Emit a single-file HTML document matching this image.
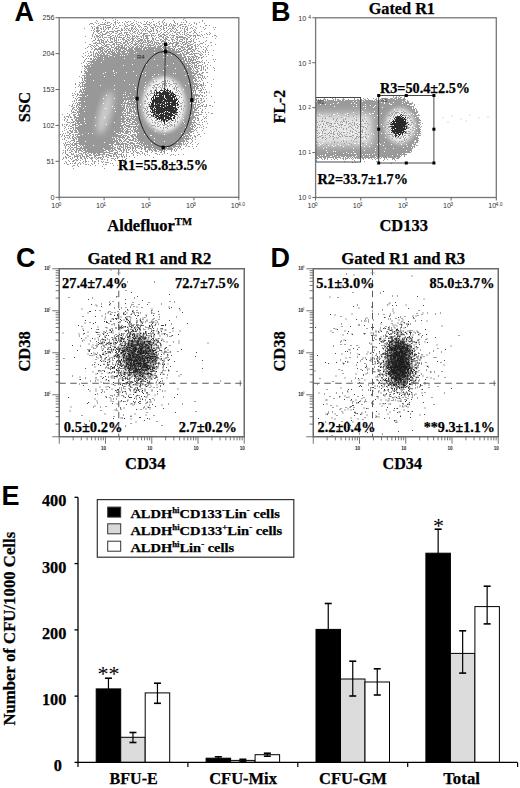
<!DOCTYPE html>
<html><head><meta charset="utf-8"><style>
html,body{margin:0;padding:0;background:#fff;}
svg{display:block;}
</style></head><body>
<svg width="520" height="788" viewBox="0 0 520 788">
<rect width="520" height="788" fill="#fff"/>
<!--A-->
<defs><filter id="b0_5" x="-30%" y="-30%" width="160%" height="160%"><feGaussianBlur stdDeviation="0.5"/></filter><filter id="b0_8" x="-30%" y="-30%" width="160%" height="160%"><feGaussianBlur stdDeviation="0.8"/></filter><filter id="b1" x="-30%" y="-30%" width="160%" height="160%"><feGaussianBlur stdDeviation="1"/></filter><filter id="b1_5" x="-30%" y="-30%" width="160%" height="160%"><feGaussianBlur stdDeviation="1.5"/></filter><filter id="b2" x="-30%" y="-30%" width="160%" height="160%"><feGaussianBlur stdDeviation="2"/></filter><filter id="b2_5" x="-30%" y="-30%" width="160%" height="160%"><feGaussianBlur stdDeviation="2.5"/></filter><filter id="b3" x="-30%" y="-30%" width="160%" height="160%"><feGaussianBlur stdDeviation="3"/></filter><filter id="b4" x="-30%" y="-30%" width="160%" height="160%"><feGaussianBlur stdDeviation="4"/></filter><filter id="b5" x="-30%" y="-30%" width="160%" height="160%"><feGaussianBlur stdDeviation="5"/></filter><filter id="b6" x="-30%" y="-30%" width="160%" height="160%"><feGaussianBlur stdDeviation="6"/></filter><filter id="b8" x="-30%" y="-30%" width="160%" height="160%"><feGaussianBlur stdDeviation="8"/></filter><filter id="dA" filterUnits="userSpaceOnUse" x="0" y="0" width="520" height="788" color-interpolation-filters="sRGB"><feTurbulence type="fractalNoise" baseFrequency="0.9" numOctaves="1" seed="5" result="t"/><feComposite in="SourceAlpha" in2="t" operator="arithmetic" k1="0" k2="0.6" k3="-1" k4="0.62" result="v"/><feComponentTransfer in="v" result="m"><feFuncA type="discrete" tableValues="0 1"/></feComponentTransfer><feFlood flood-color="#989898"/><feComposite in2="m" operator="in"/><feGaussianBlur stdDeviation="0.35"/></filter><filter id="dA2" filterUnits="userSpaceOnUse" x="0" y="0" width="520" height="788" color-interpolation-filters="sRGB"><feTurbulence type="fractalNoise" baseFrequency="0.9" numOctaves="1" seed="11" result="t"/><feComposite in="SourceAlpha" in2="t" operator="arithmetic" k1="0" k2="0.6" k3="-1" k4="0.62" result="v"/><feComponentTransfer in="v" result="m"><feFuncA type="discrete" tableValues="0 1"/></feComponentTransfer><feFlood flood-color="#a0a0a0"/><feComposite in2="m" operator="in"/><feGaussianBlur stdDeviation="0.35"/></filter><filter id="dAk" filterUnits="userSpaceOnUse" x="0" y="0" width="520" height="788" color-interpolation-filters="sRGB"><feTurbulence type="fractalNoise" baseFrequency="0.9" numOctaves="1" seed="17" result="t"/><feComposite in="SourceAlpha" in2="t" operator="arithmetic" k1="0" k2="0.6" k3="-1" k4="0.62" result="v"/><feComponentTransfer in="v" result="m"><feFuncA type="discrete" tableValues="0 1"/></feComponentTransfer><feFlood flood-color="#2e2e2e"/><feComposite in2="m" operator="in"/><feGaussianBlur stdDeviation="0.35"/></filter><filter id="dB" filterUnits="userSpaceOnUse" x="0" y="0" width="520" height="788" color-interpolation-filters="sRGB"><feTurbulence type="fractalNoise" baseFrequency="0.9" numOctaves="1" seed="7" result="t"/><feComposite in="SourceAlpha" in2="t" operator="arithmetic" k1="0" k2="0.6" k3="-1" k4="0.62" result="v"/><feComponentTransfer in="v" result="m"><feFuncA type="discrete" tableValues="0 1"/></feComponentTransfer><feFlood flood-color="#9a9a9a"/><feComposite in2="m" operator="in"/><feGaussianBlur stdDeviation="0.35"/></filter><filter id="dB2" filterUnits="userSpaceOnUse" x="0" y="0" width="520" height="788" color-interpolation-filters="sRGB"><feTurbulence type="fractalNoise" baseFrequency="0.9" numOctaves="1" seed="13" result="t"/><feComposite in="SourceAlpha" in2="t" operator="arithmetic" k1="0" k2="0.6" k3="-1" k4="0.62" result="v"/><feComponentTransfer in="v" result="m"><feFuncA type="discrete" tableValues="0 1"/></feComponentTransfer><feFlood flood-color="#a0a0a0"/><feComposite in2="m" operator="in"/><feGaussianBlur stdDeviation="0.35"/></filter><filter id="dBk" filterUnits="userSpaceOnUse" x="0" y="0" width="520" height="788" color-interpolation-filters="sRGB"><feTurbulence type="fractalNoise" baseFrequency="0.9" numOctaves="1" seed="19" result="t"/><feComposite in="SourceAlpha" in2="t" operator="arithmetic" k1="0" k2="0.6" k3="-1" k4="0.62" result="v"/><feComponentTransfer in="v" result="m"><feFuncA type="discrete" tableValues="0 1"/></feComponentTransfer><feFlood flood-color="#2a2a2a"/><feComposite in2="m" operator="in"/><feGaussianBlur stdDeviation="0.35"/></filter><clipPath id="clipA"><rect x="59.7" y="18.2" width="178.6" height="178.6"/></clipPath><clipPath id="clipB"><rect x="316" y="18.3" width="180" height="179"/></clipPath></defs><g clip-path="url(#clipA)">
<g filter="url(#dA)">
<path d="M88.0 18.0C99.0 15.2 128.5 18.0 150.0 18.0C171.5 18.0 205.5 11.0 217.0 18.0C228.5 25.0 219.0 45.5 219.0 60.0C219.0 74.5 218.5 93.0 217.0 105.0C215.5 117.0 213.2 124.5 210.0 132.0C206.8 139.5 203.3 145.7 198.0 150.0C192.7 154.3 186.0 156.7 178.0 158.0C170.0 159.3 158.0 157.5 150.0 158.0C142.0 158.5 136.3 159.3 130.0 161.0C123.7 162.7 119.5 166.5 112.0 168.0C104.5 169.5 93.7 169.8 85.0 170.0C76.3 170.2 64.2 175.7 60.0 169.0C55.8 162.3 58.7 140.7 59.5 130.0C60.3 119.3 62.8 113.3 65.0 105.0C67.2 96.7 70.7 88.3 73.0 80.0C75.3 71.7 77.2 62.5 79.0 55.0C80.8 47.5 82.5 41.2 84.0 35.0C85.5 28.8 77.0 20.8 88.0 18.0Z" fill="#000" fill-opacity="0.42" filter="url(#b6)"/>
<path d="M96.0 20.0C105.8 15.7 134.7 18.7 150.0 19.0C165.3 19.3 179.7 17.7 188.0 22.0C196.3 26.3 197.5 32.0 200.0 45.0C202.5 58.0 203.5 86.2 203.0 100.0C202.5 113.8 199.8 120.3 197.0 128.0C194.2 135.7 192.2 142.0 186.0 146.0C179.8 150.0 168.5 150.5 160.0 152.0C151.5 153.5 142.5 153.5 135.0 155.0C127.5 156.5 122.8 159.5 115.0 161.0C107.2 162.5 96.8 163.8 88.0 164.0C79.2 164.2 66.5 166.0 62.0 162.0C57.5 158.0 60.3 147.8 61.0 140.0C61.7 132.2 63.5 122.5 66.0 115.0C68.5 107.5 72.8 102.5 76.0 95.0C79.2 87.5 82.5 78.3 85.0 70.0C87.5 61.7 89.2 53.3 91.0 45.0C92.8 36.7 86.2 24.3 96.0 20.0Z" fill="#000" fill-opacity="0.28" filter="url(#b5)"/>
<path d="M98.0 45.0C104.7 41.3 119.7 40.8 130.0 40.0C140.3 39.2 149.2 39.2 160.0 40.0C170.8 40.8 188.3 40.0 195.0 45.0C201.7 50.0 199.3 60.8 200.0 70.0C200.7 79.2 200.2 90.3 199.0 100.0C197.8 109.7 196.0 120.7 193.0 128.0C190.0 135.3 187.3 140.3 181.0 144.0C174.7 147.7 163.5 148.5 155.0 150.0C146.5 151.5 137.2 151.8 130.0 153.0C122.8 154.2 118.7 156.2 112.0 157.0C105.3 157.8 96.0 158.8 90.0 158.0C84.0 157.2 78.8 155.8 76.0 152.0C73.2 148.2 73.0 142.0 73.0 135.0C73.0 128.0 74.5 118.3 76.0 110.0C77.5 101.7 79.7 93.0 82.0 85.0C84.3 77.0 87.3 68.7 90.0 62.0C92.7 55.3 91.3 48.7 98.0 45.0Z" fill="#000" fill-opacity="0.22" filter="url(#b4)"/>
<path d="M92.0 62.0C96.3 56.5 103.7 56.7 110.0 55.0C116.3 53.3 123.3 53.2 130.0 52.0C136.7 50.8 144.2 48.3 150.0 48.0C155.8 47.7 159.2 48.0 165.0 50.0C170.8 52.0 180.3 53.3 185.0 60.0C189.7 66.7 191.8 80.0 193.0 90.0C194.2 100.0 193.7 111.3 192.0 120.0C190.3 128.7 187.5 137.2 183.0 142.0C178.5 146.8 171.0 148.2 165.0 149.0C159.0 149.8 151.3 148.8 147.0 147.0C142.7 145.2 140.8 143.8 139.0 138.0C137.2 132.2 137.5 119.2 136.0 112.0C134.5 104.8 132.0 97.3 130.0 95.0C128.0 92.7 125.5 93.5 124.0 98.0C122.5 102.5 122.8 114.5 121.0 122.0C119.2 129.5 116.3 138.0 113.0 143.0C109.7 148.0 105.3 150.7 101.0 152.0C96.7 153.3 90.5 153.0 87.0 151.0C83.5 149.0 81.2 146.0 80.0 140.0C78.8 134.0 79.3 123.7 80.0 115.0C80.7 106.3 82.0 96.8 84.0 88.0C86.0 79.2 87.7 67.5 92.0 62.0Z" fill="#000" fill-opacity="1" filter="url(#b2_5)"/>
</g>
<ellipse cx="105" cy="113" rx="6" ry="22" fill="#fff" fill-opacity="0.5" filter="url(#b3)" transform="rotate(15 105 113)"/>
<ellipse cx="164" cy="104.5" rx="21.5" ry="27.5" fill="#fff" fill-opacity="0.9" filter="url(#b2)"/>
<g filter="url(#dA2)"><ellipse cx="164" cy="104.5" rx="22" ry="28" fill="#000" fill-opacity="0.55" filter="url(#b2)"/></g>
<g filter="url(#dAk)"><ellipse cx="164.2" cy="105.4" rx="15.5" ry="17.5" fill="#000" fill-opacity="0.86" filter="url(#b2_5)"/></g>
</g>
<ellipse cx="164.4" cy="99.2" rx="27.4" ry="47.8" fill="none" stroke="#111" stroke-width="0.9"/>
<line x1="165.4" y1="44" x2="164.6" y2="92" stroke="#222" stroke-width="0.8"/>
<rect x="164.0" y="42.4" width="3.2" height="3.8" fill="#000"/>
<rect x="164.0" y="49.6" width="3.2" height="3.8" fill="#000"/>
<rect x="135.5" y="96.7" width="3.2" height="3.8" fill="#000"/>
<rect x="190.2" y="98.1" width="3.2" height="3.8" fill="#000"/>
<rect x="161.6" y="145.7" width="3.2" height="3.8" fill="#000"/>
<text x="137" y="59" font-family="'Liberation Sans',sans-serif" font-size="6" fill="#222">R4</text>
<rect x="59.20" y="17.70" width="179.60" height="179.60" fill="none" stroke="#777" stroke-width="1.3" />
<line x1="55.50" y1="17.70" x2="59.20" y2="17.70" stroke="#666" stroke-width="1" />
<text x="54.40" y="20.30" font-family="'Liberation Sans',sans-serif" font-weight="normal" font-size="7.2" text-anchor="end" fill="#333" >256</text>
<line x1="55.50" y1="53.60" x2="59.20" y2="53.60" stroke="#666" stroke-width="1" />
<text x="54.40" y="56.20" font-family="'Liberation Sans',sans-serif" font-weight="normal" font-size="7.2" text-anchor="end" fill="#333" >204</text>
<line x1="55.50" y1="89.50" x2="59.20" y2="89.50" stroke="#666" stroke-width="1" />
<text x="54.40" y="92.10" font-family="'Liberation Sans',sans-serif" font-weight="normal" font-size="7.2" text-anchor="end" fill="#333" >153</text>
<line x1="55.50" y1="125.40" x2="59.20" y2="125.40" stroke="#666" stroke-width="1" />
<text x="54.40" y="128.00" font-family="'Liberation Sans',sans-serif" font-weight="normal" font-size="7.2" text-anchor="end" fill="#333" >102</text>
<line x1="55.50" y1="161.30" x2="59.20" y2="161.30" stroke="#666" stroke-width="1" />
<text x="54.40" y="163.90" font-family="'Liberation Sans',sans-serif" font-weight="normal" font-size="7.2" text-anchor="end" fill="#333" >51</text>
<line x1="55.50" y1="197.30" x2="59.20" y2="197.30" stroke="#666" stroke-width="1" />
<text x="54.40" y="199.90" font-family="'Liberation Sans',sans-serif" font-weight="normal" font-size="7.2" text-anchor="end" fill="#333" >0</text>
<line x1="59.20" y1="197.30" x2="59.20" y2="200.30" stroke="#666" stroke-width="1" />
<text x="51.20" y="208.20" font-family="'Liberation Sans',sans-serif" font-weight="normal" font-size="7.2" text-anchor="start" fill="#333" >10</text>
<text x="58.40" y="206.40" font-family="'Liberation Sans',sans-serif" font-weight="normal" font-size="5" text-anchor="start" fill="#333" >0</text>
<line x1="104.10" y1="197.30" x2="104.10" y2="200.30" stroke="#666" stroke-width="1" />
<text x="96.10" y="208.20" font-family="'Liberation Sans',sans-serif" font-weight="normal" font-size="7.2" text-anchor="start" fill="#333" >10</text>
<text x="103.30" y="206.40" font-family="'Liberation Sans',sans-serif" font-weight="normal" font-size="5" text-anchor="start" fill="#333" >1</text>
<line x1="149.00" y1="197.30" x2="149.00" y2="200.30" stroke="#666" stroke-width="1" />
<text x="141.00" y="208.20" font-family="'Liberation Sans',sans-serif" font-weight="normal" font-size="7.2" text-anchor="start" fill="#333" >10</text>
<text x="148.20" y="206.40" font-family="'Liberation Sans',sans-serif" font-weight="normal" font-size="5" text-anchor="start" fill="#333" >2</text>
<line x1="193.90" y1="197.30" x2="193.90" y2="200.30" stroke="#666" stroke-width="1" />
<text x="185.90" y="208.20" font-family="'Liberation Sans',sans-serif" font-weight="normal" font-size="7.2" text-anchor="start" fill="#333" >10</text>
<text x="193.10" y="206.40" font-family="'Liberation Sans',sans-serif" font-weight="normal" font-size="5" text-anchor="start" fill="#333" >3</text>
<line x1="238.80" y1="197.30" x2="238.80" y2="200.30" stroke="#666" stroke-width="1" />
<text x="230.80" y="208.20" font-family="'Liberation Sans',sans-serif" font-weight="normal" font-size="7.2" text-anchor="start" fill="#333" >10</text>
<text x="238.00" y="206.40" font-family="'Liberation Sans',sans-serif" font-weight="normal" font-size="5" text-anchor="start" fill="#333" >4.0</text>
<text x="14.5" y="20.8" font-family="'Liberation Sans',sans-serif" font-weight="bold" font-size="27">A</text>
<text transform="translate(29.60,107.00) rotate(-90)" x="0" y="0" font-family="'Liberation Serif',serif" font-weight="bold" font-size="17.2" text-anchor="middle" stroke="#000" stroke-width="0.25" textLength="30.3" lengthAdjust="spacingAndGlyphs">SSC</text>
<text x="107.30" y="231.00" font-family="'Liberation Serif',serif" font-weight="bold" font-size="17" text-anchor="start" fill="#000" stroke="#000" stroke-width="0.25" textLength="84.7" lengthAdjust="spacingAndGlyphs" >Aldefluor<tspan font-size="11" dy="-6">TM</tspan></text>
<text x="118.00" y="170.00" font-family="'Liberation Serif',serif" font-weight="bold" font-size="14.3" text-anchor="start" fill="#000" stroke="#000" stroke-width="0.25" textLength="90.0" lengthAdjust="spacingAndGlyphs" >R1=55.8±3.5%</text>
<g clip-path="url(#clipB)">
<g filter="url(#dB)">
<rect x="300" y="99.5" width="100" height="59" fill="#000" fill-opacity="0.9" filter="url(#b1_5)"/>
<rect x="300" y="96" width="100" height="68" fill="#000" fill-opacity="0.35" filter="url(#b2)"/>
<ellipse cx="399" cy="127" rx="22.5" ry="30" fill="#000" fill-opacity="0.8" filter="url(#b2)"/>
<ellipse cx="399" cy="127" rx="20" ry="27" fill="#000" fill-opacity="0.8" filter="url(#b3)"/>
</g>
<rect x="300" y="114" width="72" height="31" fill="#fff" fill-opacity="0.75" filter="url(#b4)"/>
<g filter="url(#dB2)"><rect x="300" y="114" width="72" height="31" fill="#000" fill-opacity="0.5" filter="url(#b4)"/></g>
<ellipse cx="400" cy="126" rx="14.5" ry="17.5" fill="#fff" fill-opacity="0.85" filter="url(#b2_5)"/>
<g filter="url(#dB2)"><ellipse cx="400" cy="126" rx="15" ry="18" fill="#000" fill-opacity="0.6" filter="url(#b2)"/></g>
<g filter="url(#dBk)"><ellipse cx="398.9" cy="125.7" rx="9" ry="11.5" fill="#000" fill-opacity="0.9" filter="url(#b2)" transform="rotate(15 398.9 125.7)"/><ellipse cx="398.9" cy="125.7" rx="5" ry="7" fill="#000" fill-opacity="0.5" filter="url(#b1_5)" transform="rotate(15 398.9 125.7)"/></g>
</g>
<path d="M443 118h0m5 4h0m4 -6h0m9 3h0m5 2h0m4 -6h0m9 3h0m9 -1h0" stroke="#bbb" stroke-width="1" stroke-linecap="square" fill="none"/>
<rect x="315.8" y="97.5" width="44.8" height="64.5" fill="none" stroke="#333" stroke-width="0.9"/>
<rect x="378.7" y="95.5" width="55.2" height="67.5" fill="none" stroke="#333" stroke-width="0.9"/>
<rect x="377.2" y="94.0" width="3" height="3" fill="#000"/>
<rect x="404.8" y="94.0" width="3" height="3" fill="#000"/>
<rect x="432.4" y="94.0" width="3" height="3" fill="#000"/>
<rect x="377.2" y="127.7" width="3" height="3" fill="#000"/>
<rect x="432.4" y="127.7" width="3" height="3" fill="#000"/>
<rect x="377.2" y="161.5" width="3" height="3" fill="#000"/>
<rect x="404.8" y="161.5" width="3" height="3" fill="#000"/>
<rect x="432.4" y="161.5" width="3" height="3" fill="#000"/>
<text x="318" y="104" font-family="'Liberation Sans',sans-serif" font-size="5" fill="#333">R1</text>
<text x="381" y="102" font-family="'Liberation Sans',sans-serif" font-size="5" fill="#333">R5</text>
<rect x="315.60" y="17.80" width="180.70" height="179.70" fill="none" stroke="#777" stroke-width="1.3" />
<line x1="312.30" y1="197.50" x2="315.60" y2="197.50" stroke="#666" stroke-width="1" />
<text x="306.20" y="200.30" font-family="'Liberation Sans',sans-serif" font-weight="normal" font-size="7.2" text-anchor="end" fill="#333" >10</text>
<text x="308.30" y="198.70" font-family="'Liberation Sans',sans-serif" font-weight="normal" font-size="5" text-anchor="start" fill="#333" >0</text>
<line x1="315.60" y1="197.50" x2="315.60" y2="200.50" stroke="#666" stroke-width="1" />
<text x="307.60" y="208.20" font-family="'Liberation Sans',sans-serif" font-weight="normal" font-size="7.2" text-anchor="start" fill="#333" >10</text>
<text x="314.80" y="206.40" font-family="'Liberation Sans',sans-serif" font-weight="normal" font-size="5" text-anchor="start" fill="#333" >0</text>
<line x1="312.30" y1="152.57" x2="315.60" y2="152.57" stroke="#666" stroke-width="1" />
<text x="306.20" y="155.38" font-family="'Liberation Sans',sans-serif" font-weight="normal" font-size="7.2" text-anchor="end" fill="#333" >10</text>
<text x="308.30" y="153.77" font-family="'Liberation Sans',sans-serif" font-weight="normal" font-size="5" text-anchor="start" fill="#333" >1</text>
<line x1="360.78" y1="197.50" x2="360.78" y2="200.50" stroke="#666" stroke-width="1" />
<text x="352.78" y="208.20" font-family="'Liberation Sans',sans-serif" font-weight="normal" font-size="7.2" text-anchor="start" fill="#333" >10</text>
<text x="359.98" y="206.40" font-family="'Liberation Sans',sans-serif" font-weight="normal" font-size="5" text-anchor="start" fill="#333" >1</text>
<line x1="312.30" y1="107.65" x2="315.60" y2="107.65" stroke="#666" stroke-width="1" />
<text x="306.20" y="110.45" font-family="'Liberation Sans',sans-serif" font-weight="normal" font-size="7.2" text-anchor="end" fill="#333" >10</text>
<text x="308.30" y="108.85" font-family="'Liberation Sans',sans-serif" font-weight="normal" font-size="5" text-anchor="start" fill="#333" >2</text>
<line x1="405.95" y1="197.50" x2="405.95" y2="200.50" stroke="#666" stroke-width="1" />
<text x="397.95" y="208.20" font-family="'Liberation Sans',sans-serif" font-weight="normal" font-size="7.2" text-anchor="start" fill="#333" >10</text>
<text x="405.15" y="206.40" font-family="'Liberation Sans',sans-serif" font-weight="normal" font-size="5" text-anchor="start" fill="#333" >2</text>
<line x1="312.30" y1="62.73" x2="315.60" y2="62.73" stroke="#666" stroke-width="1" />
<text x="306.20" y="65.53" font-family="'Liberation Sans',sans-serif" font-weight="normal" font-size="7.2" text-anchor="end" fill="#333" >10</text>
<text x="308.30" y="63.93" font-family="'Liberation Sans',sans-serif" font-weight="normal" font-size="5" text-anchor="start" fill="#333" >3</text>
<line x1="451.12" y1="197.50" x2="451.12" y2="200.50" stroke="#666" stroke-width="1" />
<text x="443.12" y="208.20" font-family="'Liberation Sans',sans-serif" font-weight="normal" font-size="7.2" text-anchor="start" fill="#333" >10</text>
<text x="450.32" y="206.40" font-family="'Liberation Sans',sans-serif" font-weight="normal" font-size="5" text-anchor="start" fill="#333" >3</text>
<line x1="312.30" y1="17.80" x2="315.60" y2="17.80" stroke="#666" stroke-width="1" />
<text x="306.20" y="20.60" font-family="'Liberation Sans',sans-serif" font-weight="normal" font-size="7.2" text-anchor="end" fill="#333" >10</text>
<text x="308.30" y="19.00" font-family="'Liberation Sans',sans-serif" font-weight="normal" font-size="5" text-anchor="start" fill="#333" >4</text>
<line x1="496.30" y1="197.50" x2="496.30" y2="200.50" stroke="#666" stroke-width="1" />
<text x="488.30" y="208.20" font-family="'Liberation Sans',sans-serif" font-weight="normal" font-size="7.2" text-anchor="start" fill="#333" >10</text>
<text x="495.50" y="206.40" font-family="'Liberation Sans',sans-serif" font-weight="normal" font-size="5" text-anchor="start" fill="#333" >4.0</text>
<text x="271" y="21.2" font-family="'Liberation Sans',sans-serif" font-weight="bold" font-size="27">B</text>
<text x="368.70" y="14.40" font-family="'Liberation Serif',serif" font-weight="bold" font-size="16.4" text-anchor="start" fill="#000" stroke="#000" stroke-width="0.25" textLength="66.3" lengthAdjust="spacingAndGlyphs" >Gated R1</text>
<text transform="translate(285.20,106.50) rotate(-90)" x="0" y="0" font-family="'Liberation Serif',serif" font-weight="bold" font-size="16.6" text-anchor="middle" stroke="#000" stroke-width="0.25" textLength="33.5" lengthAdjust="spacingAndGlyphs">FL-2</text>
<text x="379.40" y="231.30" font-family="'Liberation Serif',serif" font-weight="bold" font-size="16.5" text-anchor="start" fill="#000" stroke="#000" stroke-width="0.25" textLength="48.5" lengthAdjust="spacingAndGlyphs" >CD133</text>
<text x="380.00" y="92.50" font-family="'Liberation Serif',serif" font-weight="bold" font-size="14.3" text-anchor="start" fill="#000" stroke="#000" stroke-width="0.25" textLength="90.0" lengthAdjust="spacingAndGlyphs" >R3=50.4±2.5%</text>
<text x="317.50" y="183.75" font-family="'Liberation Serif',serif" font-weight="bold" font-size="14.3" text-anchor="start" fill="#000" stroke="#000" stroke-width="0.25" textLength="90.5" lengthAdjust="spacingAndGlyphs" >R2=33.7±1.7%</text>
<ellipse cx="139" cy="356" rx="16" ry="20" fill="#555" fill-opacity="0.5" filter="url(#b3)" transform="rotate(0 139 356)"/>
<path d="M63 333h0m1 25.5h0m4 -71.5h0m0.5 110.5h0m0.5 -100h0m1 113.5h0m1 -4h0m1.5 -61.5h0m0 30.5h0m2 -18.5h0m3 -7h0m1 -25h0m0.5 8.5h0m0.5 2h0m0 48h0m0.5 -7h0m0 2.5h0m0.5 -33.5h0m0 33.5h0m1 -41h0m0.5 -29.5h0m0 17.5h0m0 89h0m0.5 -74.5h0m0.5 -24.5h0m0 12.5h0m0.5 1.5h0m0 3.5h0m0 51.5h0m0.5 -45.5h0m0.5 -6.5h0m0 90.5h0m0.5 -101h0m0.5 -2.5h0m0 48h0m0 9.5h0m0.5 -40h0m1.5 65.5h0m0.5 -90.5h0m0 19h0m0 4h0m0 13.5h0m0 4.5h0m0.5 -54.5h0m0 51.5h0m0 38.5h0m0 13h0m0.5 -58.5h0m0.5 -32.5h0m0 39h0m0 1h0m0 69.5h0m0.5 -98.5h0m0 27h0m0 6h0m0 35.5h0m0.5 -79.5h0m0 29.5h0m0 40h0m1 -76.5h0m0 24h0m0 25h0m0.5 -6.5h0m0 8.5h0m0.5 -57.5h0m0 40.5h0m0 26.5h0m0.5 -20h0m0 27h0m0.5 -48.5h0m0 24.5h0m0 59h0m0.5 -54h0m0 2h0m0.5 9.5h0m0.5 -25.5h0m0 9.5h0m0 14h0m0 4.5h0m0 32h0m0 7h0m0.5 -95.5h0m0 6h0m0 6h0m0 31.5h0m0 27h0m0 13.5h0m0.5 -89.5h0m0 27h0m0 13.5h0m0 14h0m0 14.5h0m0 3.5h0m0 1.5h0m0 10h0m0 2h0m0.5 -58.5h0m0 9h0m0 5.5h0m0 7.5h0m0 2.5h0m0.5 -51h0m0 23.5h0m0 14.5h0m0 57h0m0.5 -68.5h0m0 13.5h0m0 7h0m0 20.5h0m0 20.5h0m0 9h0m0.5 -76h0m0 7.5h0m0 3.5h0m0 20h0m0 22h0m0.5 -50.5h0m0 10.5h0m0 2.5h0m0 2h0m0 20h0m0 6.5h0m0.5 -38.5h0m0 38h0m0.5 -34h0m0 7h0m0 11.5h0m0.5 -44.5h0m0 24.5h0m0 36h0m0 16h0m0.5 -46h0m0 14.5h0m0 1.5h0m0 3.5h0m0 5h0m0 41.5h0m0.5 -64h0m0 0.5h0m0 0.5h0m0 13h0m0 14h0m0 5.5h0m0 5.5h0m0 28.5h0m0.5 -106.5h0m0 2.5h0m0 40.5h0m0 10h0m0 2h0m0 2.5h0m0 31h0m0.5 -76.5h0m0 23.5h0m0 3h0m0 1h0m0 5.5h0m0 24.5h0m0 16h0m0.5 -50.5h0m0 3h0m0 8.5h0m0 4h0m0 24h0m0 12.5h0m0.5 -57.5h0m0 9.5h0m0 2h0m0 8h0m0 8h0m0 9.5h0m0.5 -36h0m0 5h0m0 9.5h0m0 5h0m0 0.5h0m0 23h0m0 5.5h0m0.5 -51.5h0m0 1.5h0m0 8h0m0 4.5h0m0 1h0m0 14.5h0m0 3h0m0 0.5h0m0.5 -43h0m0 21h0m0 28.5h0m0 0.5h0m0 20.5h0m0.5 -73h0m0 17h0m0 1h0m0 2.5h0m0 8h0m0 4.5h0m0 3h0m0 4h0m0 0h0m0 55h0m0.5 -100h0m0 3h0m0 15.5h0m0 5h0m0 3h0m0 11h0m0 6.5h0m0 3.5h0m0 6.5h0m0 8.5h0m0.5 -49h0m0 17h0m0 0.5h0m0 8.5h0m0 26.5h0m0 7h0m0 9.5h0m0 10h0m0.5 -85h0m0 1h0m0 8.5h0m0 4.5h0m0 8.5h0m0 9.5h0m0 4h0m0 9.5h0m0 12.5h0m0 18h0m0.5 -69.5h0m0 15h0m0 46.5h0m0.5 -67h0m0 11h0m0 5.5h0m0 4.5h0m0 6h0m0 13h0m0 1.5h0m0.5 -51h0m0 35h0m0 3.5h0m0 1.5h0m0 7h0m0 5h0m0 0h0m0 0.5h0m0 2.5h0m0 5h0m0 13.5h0m0.5 -74.5h0m0 23.5h0m0 7.5h0m0 6h0m0 7h0m0 12h0m0 9h0m0 3.5h0m0.5 -57h0m0 19h0m0 2h0m0 3h0m0 4h0m0 1h0m0 0h0m0 7h0m0 3h0m0 2h0m0 16.5h0m0.5 -79h0m0 2.5h0m0 35.5h0m0 2h0m0 17h0m0 2.5h0m0 11h0m0 15h0m0.5 -82.5h0m0 6.5h0m0 18h0m0 1h0m0 2h0m0 11h0m0 6h0m0 2h0m0 6.5h0m0 3h0m0 7.5h0m0 4.5h0m0 24.5h0m0.5 -94h0m0 10.5h0m0 7h0m0 9.5h0m0 13h0m0 0.5h0m0 3h0m0 0.5h0m0 5h0m0 0.5h0m0 14h0m0 2.5h0m0.5 -99.5h0m0 44.5h0m0 7h0m0 21.5h0m0 2.5h0m0 31.5h0m0 18.5h0m0 3.5h0m0 2h0m0.5 -69.5h0m0 1h0m0 11h0m0 5.5h0m0 1h0m0 1h0m0 15.5h0m0 6.5h0m0 50.5h0m0.5 -111h0m0 6.5h0m0 5.5h0m0 4h0m0 9h0m0 12.5h0m0 7.5h0m0 11h0m0 7.5h0m0 2h0m0 6h0m0 5h0m0.5 -59h0m0 9.5h0m0 12.5h0m0 7h0m0 4h0m0 4.5h0m0 0.5h0m0 0h0m0 0h0m0 4h0m0 24h0m0 7.5h0m0.5 -102h0m0 17h0m0 12.5h0m0 2h0m0 5h0m0 8.5h0m0 14h0m0 4h0m0 11.5h0m0 25.5h0m0.5 -82h0m0 20.5h0m0 3h0m0 1h0m0 5.5h0m0 0.5h0m0 18h0m0 14.5h0m0 0h0m0 2h0m0 14.5h0m0 19.5h0m0.5 -95h0m0 17.5h0m0 8h0m0 7h0m0 1h0m0 10h0m0 0.5h0m0 4.5h0m0 6h0m0 38.5h0m0.5 -108.5h0m0 7.5h0m0 9.5h0m0 11h0m0 2h0m0 18h0m0 2.5h0m0 8h0m0 1.5h0m0 0h0m0 4h0m0 0h0m0 0.5h0m0 4h0m0 1.5h0m0 17h0m0.5 -82.5h0m0 30h0m0 1.5h0m0 1h0m0 1.5h0m0 1h0m0 0h0m0 0h0m0 9h0m0 29h0m0 24.5h0m0.5 -91.5h0m0 19.5h0m0 0.5h0m0 1.5h0m0 2.5h0m0 0.5h0m0 7.5h0m0 2h0m0 2.5h0m0 0.5h0m0 9.5h0m0 0.5h0m0 11h0m0 14h0m0.5 -63h0m0 1h0m0 6h0m0 4h0m0 4h0m0 7h0m0 14.5h0m0.5 -67h0m0 21.5h0m0 1h0m0 17h0m0 3.5h0m0 0.5h0m0 3h0m0 5h0m0 3h0m0 0.5h0m0 1h0m0 3.5h0m0 5.5h0m0 0h0m0 7.5h0m0 0.5h0m0 0.5h0m0 6h0m0 15.5h0m0 7h0m0 10h0m0.5 -112.5h0m0 57.5h0m0 0.5h0m0 1.5h0m0 0h0m0 1.5h0m0 3.5h0m0 12h0m0 2.5h0m0 1h0m0 0.5h0m0 13.5h0m0 6h0m0 7.5h0m0 6.5h0m0.5 -96h0m0 1h0m0 26.5h0m0 0h0m0 6h0m0 1.5h0m0 4h0m0 2h0m0 5h0m0 4.5h0m0 1.5h0m0 4h0m0 5h0m0 14h0m0 3h0m0.5 -81h0m0 5.5h0m0 1.5h0m0 17h0m0 1h0m0 19h0m0 1h0m0 1h0m0 6h0m0 5h0m0 3h0m0 23h0m0.5 -78h0m0 6h0m0 2.5h0m0 4.5h0m0 6h0m0 3h0m0 9h0m0 4.5h0m0 0h0m0 2.5h0m0 1h0m0 2.5h0m0 2h0m0 2h0m0 2.5h0m0 3.5h0m0 4.5h0m0 1.5h0m0 15.5h0m0 14.5h0m0.5 -78h0m0 1h0m0 0.5h0m0 1h0m0 4.5h0m0 7h0m0 10h0m0 0h0m0 8h0m0 4h0m0 0.5h0m0 2h0m0.5 -55h0m0 18.5h0m0 6.5h0m0 14h0m0 1h0m0 1h0m0 1h0m0 3.5h0m0 1.5h0m0 0.5h0m0 3.5h0m0 1h0m0 6h0m0 3h0m0 5h0m0 12.5h0m0.5 -66.5h0m0 1h0m0 7.5h0m0 11.5h0m0 0.5h0m0 2.5h0m0 0.5h0m0 4.5h0m0 16h0m0 0.5h0m0 6.5h0m0 3.5h0m0 2.5h0m0 13.5h0m0.5 -72.5h0m0 8h0m0 10h0m0 1.5h0m0 1.5h0m0 3.5h0m0 4.5h0m0 4.5h0m0 8h0m0 0.5h0m0 0.5h0m0 0.5h0m0 1h0m0 1.5h0m0 8h0m0 11.5h0m0 23.5h0m0 0h0m0.5 -91h0m0 10h0m0 1.5h0m0 7h0m0 6h0m0 2h0m0 3.5h0m0 3h0m0 3h0m0 1h0m0 3h0m0 7.5h0m0 0.5h0m0 3.5h0m0 0h0m0 3.5h0m0 1h0m0 1h0m0 0.5h0m0 2.5h0m0 6h0m0 18.5h0m0 8h0m0 8.5h0m0.5 -110h0m0 12.5h0m0 6h0m0 1.5h0m0 6h0m0 1.5h0m0 2.5h0m0 0h0m0 0.5h0m0 0h0m0 1.5h0m0 0h0m0 1.5h0m0 3.5h0m0 0.5h0m0 0h0m0 5h0m0 2h0m0 0h0m0 1h0m0 6h0m0 0h0m0 1h0m0 3h0m0 3h0m0 0h0m0 4.5h0m0 4.5h0m0 12.5h0m0 2h0m0 10.5h0m0.5 -75h0m0 8.5h0m0 0h0m0 14h0m0 5h0m0 12.5h0m0 10h0m0 3.5h0m0 16.5h0m0.5 -68h0m0 9.5h0m0 1.5h0m0 0.5h0m0 4h0m0 2.5h0m0 3h0m0 2h0m0 0.5h0m0 0.5h0m0 1h0m0 2.5h0m0 11h0m0 11.5h0m0 2.5h0m0 0.5h0m0 3.5h0m0 1.5h0m0 7h0m0 25.5h0m0.5 -90h0m0 10.5h0m0 7h0m0 2.5h0m0 1.5h0m0 6.5h0m0 0h0m0 2h0m0 3.5h0m0 0.5h0m0 3h0m0 3.5h0m0 4.5h0m0 6h0m0 0h0m0 4.5h0m0 8h0m0.5 -78h0m0 21.5h0m0 4.5h0m0 2h0m0 0h0m0 6.5h0m0 2.5h0m0 0.5h0m0 0.5h0m0 0.5h0m0 1h0m0 1.5h0m0 2.5h0m0 0.5h0m0 1.5h0m0 1h0m0 5h0m0 6h0m0 5.5h0m0 4h0m0 3h0m0 4.5h0m0 8h0m0 5.5h0m0 13.5h0m0.5 -102.5h0m0 1.5h0m0 0.5h0m0 5.5h0m0 6.5h0m0 0.5h0m0 6.5h0m0 6.5h0m0 1.5h0m0 5.5h0m0 4.5h0m0 0h0m0 2.5h0m0 1.5h0m0 0.5h0m0 1.5h0m0 0.5h0m0 0h0m0 2.5h0m0 0h0m0 7.5h0m0 5h0m0 1h0m0 0.5h0m0 12h0m0 10.5h0m0 11h0m0.5 -69.5h0m0 7h0m0 1.5h0m0 2h0m0 1h0m0 0h0m0 1h0m0 4h0m0 0h0m0 0.5h0m0 0.5h0m0 6.5h0m0 3.5h0m0 2h0m0 4.5h0m0 0.5h0m0 1.5h0m0 2h0m0 7h0m0 35h0m0 0h0m0.5 -88h0m0 11h0m0 1h0m0 1h0m0 1.5h0m0 0.5h0m0 2h0m0 4h0m0 2h0m0 0.5h0m0 1h0m0 5.5h0m0 0.5h0m0 0.5h0m0 5.5h0m0 0.5h0m0 2h0m0 2.5h0m0 2h0m0 0h0m0 1h0m0 3.5h0m0 5.5h0m0 2.5h0m0 2.5h0m0 2.5h0m0 10h0m0.5 -102h0m0 4h0m0 8h0m0 3h0m0 3h0m0 4h0m0 5h0m0 0h0m0 0.5h0m0 4.5h0m0 5.5h0m0 6h0m0 1.5h0m0 4.5h0m0 2h0m0 2h0m0 0.5h0m0 0h0m0 13h0m0 2.5h0m0 3.5h0m0 5h0m0 1.5h0m0 12.5h0m0 6h0m0 28.5h0m0.5 -135.5h0m0 17h0m0 11h0m0 28.5h0m0 2.5h0m0 2.5h0m0 4.5h0m0 1.5h0m0 0h0m0 0.5h0m0 1h0m0 3.5h0m0 1h0m0 1.5h0m0 1h0m0 1.5h0m0 2h0m0 0h0m0 8.5h0m0 4.5h0m0 10h0m0.5 -74h0m0 0.5h0m0 11h0m0 0.5h0m0 4h0m0 11.5h0m0 2h0m0 1.5h0m0 0.5h0m0 6h0m0 2.5h0m0 1.5h0m0 0.5h0m0 1.5h0m0 0.5h0m0 2h0m0 1.5h0m0 0h0m0 16h0m0 1.5h0m0 10h0m0 10.5h0m0.5 -91.5h0m0 3.5h0m0 1.5h0m0 3h0m0 22.5h0m0 4h0m0 0.5h0m0 0.5h0m0 7h0m0 1h0m0 0.5h0m0 1h0m0 1.5h0m0 3.5h0m0 1h0m0 0.5h0m0 0.5h0m0 8h0m0 0h0m0 5h0m0 5h0m0.5 -101h0m0 27.5h0m0 10h0m0 3h0m0 5h0m0 2.5h0m0 3.5h0m0 1.5h0m0 2h0m0 0.5h0m0 2h0m0 7.5h0m0 2.5h0m0 0h0m0 0.5h0m0 3.5h0m0 5h0m0 0.5h0m0 4h0m0 0.5h0m0 1h0m0 3.5h0m0 9h0m0 2h0m0 3h0m0 0.5h0m0 18.5h0m0.5 -90.5h0m0 16.5h0m0 9.5h0m0 7.5h0m0 0.5h0m0 1h0m0 0h0m0 2.5h0m0 0h0m0 1.5h0m0 1.5h0m0 0.5h0m0 0h0m0 2h0m0 5h0m0 1h0m0 1h0m0 0h0m0 1h0m0 2h0m0 3h0m0 1h0m0 0.5h0m0 0.5h0m0 4h0m0 1.5h0m0 1h0m0 4h0m0 0.5h0m0 20.5h0m0.5 -79.5h0m0 3.5h0m0 5h0m0 1.5h0m0 1h0m0 1.5h0m0 4.5h0m0 3.5h0m0 2h0m0 0.5h0m0 0.5h0m0 0.5h0m0 2.5h0m0 4.5h0m0 1.5h0m0 1h0m0 0.5h0m0 0h0m0 0.5h0m0 1h0m0 2.5h0m0 0h0m0 1h0m0 5h0m0 0.5h0m0 1.5h0m0 0h0m0 0.5h0m0 1.5h0m0 0h0m0 2h0m0 5h0m0 20.5h0m0 0.5h0m0.5 -80h0m0 16h0m0 4h0m0 2.5h0m0 1.5h0m0 1.5h0m0 0.5h0m0 0.5h0m0 0.5h0m0 2h0m0 0.5h0m0 1.5h0m0 3h0m0 6.5h0m0 0h0m0 0.5h0m0 2h0m0 2h0m0 1h0m0 0h0m0 0.5h0m0 2h0m0 4h0m0 0h0m0 2.5h0m0 3h0m0 0.5h0m0 1h0m0 5.5h0m0 2h0m0 2h0m0 3h0m0.5 -67h0m0 1h0m0 0.5h0m0 2h0m0 1h0m0 8h0m0 1.5h0m0 0.5h0m0 0.5h0m0 4h0m0 4.5h0m0 2.5h0m0 0.5h0m0 1.5h0m0 1.5h0m0 2h0m0 0h0m0 1.5h0m0 0h0m0 0.5h0m0 1h0m0 0h0m0 0.5h0m0 2h0m0 1.5h0m0 0h0m0 0.5h0m0 0.5h0m0 4h0m0 0h0m0 3h0m0 0h0m0 0.5h0m0 1h0m0 0h0m0 0.5h0m0 2h0m0 0h0m0 1h0m0 1h0m0 4h0m0 1h0m0 1h0m0 4.5h0m0 13h0m0 0h0m0.5 -80.5h0m0 15h0m0 3h0m0 1.5h0m0 0.5h0m0 1.5h0m0 3h0m0 7h0m0 3h0m0 3.5h0m0 1h0m0 0h0m0 1.5h0m0 1.5h0m0 0.5h0m0 0.5h0m0 1h0m0 4.5h0m0 4.5h0m0 0.5h0m0 2h0m0 0h0m0 2h0m0 0.5h0m0 0.5h0m0 6.5h0m0 3h0m0 1.5h0m0 3h0m0 0.5h0m0 4.5h0m0.5 -87.5h0m0 13h0m0 2h0m0 4.5h0m0 6h0m0 1h0m0 1h0m0 10.5h0m0 2.5h0m0 2.5h0m0 0.5h0m0 0h0m0 2.5h0m0 2h0m0 0.5h0m0 1h0m0 1h0m0 0h0m0 1.5h0m0 0.5h0m0 0.5h0m0 2.5h0m0 1h0m0 0.5h0m0 1h0m0 0.5h0m0 1h0m0 0.5h0m0 1h0m0 0.5h0m0 1.5h0m0 2.5h0m0 5.5h0m0 4h0m0 5h0m0 4h0m0 6.5h0m0.5 -83h0m0 3.5h0m0 5.5h0m0 1h0m0 4.5h0m0 0.5h0m0 11h0m0 0.5h0m0 2.5h0m0 0.5h0m0 2h0m0 0h0m0 1h0m0 3.5h0m0 1.5h0m0 1h0m0 1.5h0m0 0.5h0m0 4h0m0 0h0m0 0.5h0m0 0.5h0m0 1h0m0 2.5h0m0 0.5h0m0 0h0m0 1h0m0 0.5h0m0 1.5h0m0 0.5h0m0 1h0m0 0.5h0m0 3.5h0m0 1h0m0 1h0m0 7.5h0m0 5h0m0 17h0m0 12h0m0 0.5h0m0 2.5h0m0 4.5h0m0.5 -131h0m0 12.5h0m0 9h0m0 12h0m0 1.5h0m0 4h0m0 9.5h0m0 1h0m0 1.5h0m0 1h0m0 1h0m0 0.5h0m0 0.5h0m0 2h0m0 2h0m0 6.5h0m0 1.5h0m0 0.5h0m0 1.5h0m0 0.5h0m0 1h0m0 0h0m0 1h0m0 1.5h0m0 1.5h0m0 4h0m0 3h0m0 4h0m0 5h0m0 15.5h0m0.5 -72.5h0m0 1h0m0 1.5h0m0 4.5h0m0 2h0m0 7h0m0 0h0m0 0.5h0m0 2.5h0m0 1.5h0m0 0h0m0 0.5h0m0 5h0m0 0.5h0m0 0.5h0m0 0.5h0m0 0h0m0 1h0m0 0h0m0 1.5h0m0 3.5h0m0 0.5h0m0 4.5h0m0 1h0m0 2h0m0 0h0m0 2.5h0m0 0.5h0m0 3h0m0 9h0m0 6h0m0 16h0m0.5 -92.5h0m0 0.5h0m0 18.5h0m0 0.5h0m0 0.5h0m0 3.5h0m0 1h0m0 2h0m0 2.5h0m0 0.5h0m0 1.5h0m0 0h0m0 1.5h0m0 0.5h0m0 2h0m0 2h0m0 1.5h0m0 3h0m0 0.5h0m0 0h0m0 1h0m0 1h0m0 0.5h0m0 0h0m0 0.5h0m0 0h0m0 1.5h0m0 2.5h0m0 0h0m0 0.5h0m0 5h0m0 2h0m0 1.5h0m0 3.5h0m0 3.5h0m0 6.5h0m0.5 -80h0m0 2h0m0 8.5h0m0 12.5h0m0 9h0m0 3h0m0 3.5h0m0 0.5h0m0 2.5h0m0 2.5h0m0 1.5h0m0 2.5h0m0 1.5h0m0 0h0m0 1h0m0 0.5h0m0 2.5h0m0 0.5h0m0 1.5h0m0 2.5h0m0 2.5h0m0 2.5h0m0 1h0m0 2h0m0 14h0m0 2.5h0m0 20h0m0.5 -94h0m0 15h0m0 4.5h0m0 1h0m0 2h0m0 3.5h0m0 1.5h0m0 0h0m0 3.5h0m0 3h0m0 1h0m0 0.5h0m0 0h0m0 1.5h0m0 1h0m0 0h0m0 1h0m0 2h0m0 2h0m0 1.5h0m0 1.5h0m0 0h0m0 0.5h0m0 0.5h0m0 2h0m0 1.5h0m0 0h0m0 1.5h0m0 0h0m0 1h0m0 0.5h0m0 0h0m0 0.5h0m0 0h0m0 3h0m0 0.5h0m0 2h0m0 1h0m0 1.5h0m0 11.5h0m0 10h0m0 7h0m0.5 -95h0m0 6h0m0 12h0m0 4.5h0m0 5h0m0 2h0m0 2.5h0m0 3.5h0m0 3h0m0 0h0m0 1h0m0 4h0m0 0h0m0 0h0m0 0.5h0m0 0.5h0m0 1h0m0 1h0m0 1.5h0m0 0.5h0m0 0.5h0m0 0.5h0m0 1.5h0m0 0h0m0 3.5h0m0 1h0m0 0h0m0 0.5h0m0 2h0m0 0.5h0m0 0h0m0 4.5h0m0 2.5h0m0 0.5h0m0 0h0m0 2h0m0 0.5h0m0 15h0m0 0h0m0 2h0m0.5 -94h0m0 16h0m0 13.5h0m0 0.5h0m0 6h0m0 0.5h0m0 1h0m0 0.5h0m0 0.5h0m0 2h0m0 1h0m0 5.5h0m0 2.5h0m0 3h0m0 1h0m0 1h0m0 1.5h0m0 3h0m0 2h0m0 1.5h0m0 0h0m0 1h0m0 0.5h0m0 2h0m0 0h0m0 0.5h0m0 0.5h0m0 1.5h0m0 0.5h0m0 4h0m0 5h0m0 0h0m0 2.5h0m0 1.5h0m0 1h0m0 8h0m0 9.5h0m0 4h0m0 1.5h0m0.5 -72.5h0m0 9h0m0 0.5h0m0 0h0m0 3.5h0m0 1.5h0m0 1h0m0 0.5h0m0 0.5h0m0 0h0m0 0h0m0 0h0m0 0h0m0 0h0m0 1h0m0 0.5h0m0 4.5h0m0 0h0m0 2h0m0 0.5h0m0 1h0m0 0h0m0 2h0m0 0.5h0m0 0.5h0m0 0.5h0m0 2.5h0m0 0.5h0m0 1.5h0m0 2h0m0 0.5h0m0 0h0m0 0.5h0m0 1.5h0m0 0.5h0m0 0.5h0m0 0.5h0m0 0.5h0m0 0.5h0m0 1h0m0 1h0m0 1.5h0m0 0.5h0m0 7.5h0m0 1h0m0 4.5h0m0 3h0m0 21.5h0m0.5 -98.5h0m0 11.5h0m0 2h0m0 0.5h0m0 1.5h0m0 0.5h0m0 6h0m0 1h0m0 7.5h0m0 1.5h0m0 1.5h0m0 0.5h0m0 0h0m0 0.5h0m0 0.5h0m0 1h0m0 0h0m0 2.5h0m0 4h0m0 1h0m0 2.5h0m0 0h0m0 2.5h0m0 1.5h0m0 0.5h0m0 1h0m0 2.5h0m0 1.5h0m0 0.5h0m0 0.5h0m0 3.5h0m0 1.5h0m0 4.5h0m0 6.5h0m0 4h0m0 0.5h0m0 9.5h0m0.5 -67h0m0 2h0m0 1.5h0m0 2.5h0m0 1.5h0m0 2h0m0 0.5h0m0 1h0m0 1.5h0m0 0h0m0 1h0m0 0.5h0m0 0h0m0 0.5h0m0 0h0m0 4.5h0m0 1h0m0 1.5h0m0 0h0m0 1.5h0m0 0.5h0m0 1h0m0 0.5h0m0 0.5h0m0 1.5h0m0 1.5h0m0 2.5h0m0 0.5h0m0 1.5h0m0 0.5h0m0 0h0m0 0.5h0m0 1h0m0 0h0m0 1h0m0 5.5h0m0 1h0m0 0.5h0m0 5.5h0m0 1h0m0 12.5h0m0 25h0m0.5 -103.5h0m0 2.5h0m0 2h0m0 2.5h0m0 6h0m0 10.5h0m0 3.5h0m0 3.5h0m0 0.5h0m0 0.5h0m0 5h0m0 1.5h0m0 1h0m0 2h0m0 1h0m0 0.5h0m0 2h0m0 0.5h0m0 0.5h0m0 0h0m0 4h0m0 0.5h0m0 0h0m0 0.5h0m0 1.5h0m0 1h0m0 2.5h0m0 0.5h0m0 5.5h0m0 2.5h0m0 8h0m0 1.5h0m0 4h0m0 3h0m0 10.5h0m0.5 -102.5h0m0 3.5h0m0 2h0m0 10h0m0 2h0m0 3.5h0m0 2.5h0m0 3.5h0m0 1.5h0m0 1h0m0 1.5h0m0 4h0m0 1.5h0m0 1h0m0 1h0m0 2.5h0m0 6.5h0m0 0.5h0m0 0h0m0 1h0m0 3.5h0m0 0.5h0m0 0.5h0m0 0.5h0m0 0.5h0m0 3.5h0m0 1h0m0 2h0m0 1.5h0m0 1h0m0 1h0m0 1h0m0 6h0m0 2h0m0 1.5h0m0 0.5h0m0 0.5h0m0 2.5h0m0 2h0m0 2h0m0.5 -93h0m0 19.5h0m0 5h0m0 5h0m0 1h0m0 2.5h0m0 7h0m0 4h0m0 1h0m0 1.5h0m0 0h0m0 8.5h0m0 0.5h0m0 0.5h0m0 0h0m0 0.5h0m0 2h0m0 0.5h0m0 2h0m0 0.5h0m0 1h0m0 1.5h0m0 0h0m0 0.5h0m0 2h0m0 0h0m0 0.5h0m0 0h0m0 2.5h0m0 3.5h0m0 0.5h0m0 0h0m0 3h0m0 3.5h0m0 4.5h0m0 7h0m0 0.5h0m0 7h0m0.5 -71h0m0 9h0m0 1.5h0m0 5h0m0 3.5h0m0 0.5h0m0 0.5h0m0 0.5h0m0 0.5h0m0 3.5h0m0 0.5h0m0 2h0m0 3.5h0m0 0h0m0 1h0m0 0.5h0m0 1.5h0m0 3h0m0 1.5h0m0 0h0m0 1h0m0 0h0m0 1.5h0m0 1h0m0 0h0m0 5h0m0 0.5h0m0 0h0m0 1h0m0 1.5h0m0 1h0m0 4h0m0 5h0m0 6.5h0m0.5 -77.5h0m0 2.5h0m0 12h0m0 11h0m0 1.5h0m0 1.5h0m0 1h0m0 2h0m0 4h0m0 2h0m0 1.5h0m0 2.5h0m0 1.5h0m0 1.5h0m0 1.5h0m0 0h0m0 0h0m0 0.5h0m0 4h0m0 0h0m0 1h0m0 2.5h0m0 1h0m0 1h0m0 0h0m0 0.5h0m0 8.5h0m0 1.5h0m0 0.5h0m0 0.5h0m0 9h0m0 1h0m0 12h0m0.5 -98h0m0 21h0m0 3h0m0 9h0m0 1h0m0 1.5h0m0 1h0m0 2.5h0m0 0.5h0m0 1h0m0 4h0m0 1h0m0 0.5h0m0 1h0m0 0h0m0 0.5h0m0 0.5h0m0 0.5h0m0 1h0m0 0h0m0 0.5h0m0 1.5h0m0 1h0m0 3.5h0m0 1.5h0m0 0h0m0 1h0m0 1h0m0 0.5h0m0 1h0m0 1h0m0 3h0m0 0.5h0m0 3.5h0m0 3.5h0m0 1.5h0m0 0.5h0m0 16.5h0m0.5 -67.5h0m0 1h0m0 3h0m0 3h0m0 3h0m0 0h0m0 1.5h0m0 5.5h0m0 1h0m0 1.5h0m0 1h0m0 2.5h0m0 1h0m0 0h0m0 4.5h0m0 0.5h0m0 0.5h0m0 3h0m0 0.5h0m0 2h0m0 0.5h0m0 0.5h0m0 2.5h0m0 3.5h0m0 0.5h0m0 0h0m0 1.5h0m0 0.5h0m0 0h0m0 2.5h0m0 0.5h0m0 4h0m0 6.5h0m0 5.5h0m0 6h0m0 4h0m0 16h0m0.5 -97.5h0m0 9h0m0 0h0m0 1h0m0 4h0m0 2h0m0 5h0m0 4h0m0 1h0m0 0h0m0 1.5h0m0 5h0m0 0h0m0 1h0m0 1h0m0 0.5h0m0 1h0m0 0.5h0m0 0.5h0m0 1h0m0 0h0m0 0h0m0 1h0m0 0h0m0 0.5h0m0 0.5h0m0 2h0m0 1.5h0m0 1h0m0 2h0m0 3h0m0 0h0m0 3.5h0m0 1h0m0 1.5h0m0 0.5h0m0 10.5h0m0 3h0m0 14h0m0 0h0m0.5 -90.5h0m0 6h0m0 1.5h0m0 0.5h0m0 5h0m0 1h0m0 3h0m0 3h0m0 0.5h0m0 2.5h0m0 1h0m0 1h0m0 0.5h0m0 0.5h0m0 4.5h0m0 2.5h0m0 0.5h0m0 2h0m0 1h0m0 0h0m0 1h0m0 2.5h0m0 0h0m0 0.5h0m0 1h0m0 4h0m0 1h0m0 1h0m0 0.5h0m0 1.5h0m0 0.5h0m0 0h0m0 0.5h0m0 1.5h0m0 0h0m0 0.5h0m0 0h0m0 0.5h0m0 0h0m0 0.5h0m0 0h0m0 2.5h0m0 0.5h0m0 2h0m0 1h0m0 1.5h0m0 1.5h0m0 3h0m0 0.5h0m0 0h0m0 2.5h0m0 1.5h0m0 1.5h0m0 1h0m0 1.5h0m0 12h0m0 2.5h0m0 16h0m0.5 -95.5h0m0 3h0m0 8.5h0m0 7.5h0m0 0h0m0 1.5h0m0 0.5h0m0 1h0m0 0h0m0 4h0m0 0.5h0m0 0h0m0 1.5h0m0 0.5h0m0 0.5h0m0 0h0m0 0.5h0m0 0.5h0m0 0.5h0m0 0.5h0m0 0h0m0 0.5h0m0 1h0m0 3h0m0 2h0m0 1.5h0m0 0h0m0 1h0m0 1h0m0 0.5h0m0 0h0m0 2h0m0 1.5h0m0 5h0m0 1.5h0m0 2.5h0m0 0.5h0m0 1.5h0m0 4h0m0 27.5h0m0.5 -87.5h0m0 3.5h0m0 11h0m0 3h0m0 5.5h0m0 1.5h0m0 0.5h0m0 1h0m0 0.5h0m0 1h0m0 1h0m0 0h0m0 0.5h0m0 0.5h0m0 3h0m0 2.5h0m0 1.5h0m0 6h0m0 3h0m0 1h0m0 0h0m0 1.5h0m0 2.5h0m0 2h0m0 4.5h0m0 2.5h0m0 15h0m0.5 -89h0m0 15.5h0m0 14h0m0 0.5h0m0 6.5h0m0 0.5h0m0 0h0m0 0h0m0 1.5h0m0 1h0m0 1.5h0m0 0.5h0m0 0h0m0 2.5h0m0 0.5h0m0 1.5h0m0 0h0m0 0h0m0 0.5h0m0 2h0m0 0h0m0 0h0m0 2h0m0 1.5h0m0 1.5h0m0 0h0m0 2.5h0m0 0.5h0m0 1.5h0m0 1h0m0 2h0m0 1h0m0 1h0m0 0.5h0m0 0h0m0 5.5h0m0 4.5h0m0 0h0m0 0h0m0 4h0m0 3.5h0m0 3h0m0.5 -91h0m0 23h0m0 17.5h0m0 2h0m0 2.5h0m0 2.5h0m0 0.5h0m0 4h0m0 3h0m0 1h0m0 1h0m0 0.5h0m0 0.5h0m0 1h0m0 1.5h0m0 6.5h0m0 8h0m0 0.5h0m0 0.5h0m0 0h0m0 3h0m0 4.5h0m0 6.5h0m0 0h0m0 2h0m0 6.5h0m0 0.5h0m0.5 -81.5h0m0 1.5h0m0 2.5h0m0 3.5h0m0 0h0m0 9.5h0m0 1h0m0 1h0m0 1.5h0m0 0h0m0 4h0m0 1h0m0 1h0m0 2h0m0 0.5h0m0 0.5h0m0 0.5h0m0 1h0m0 1.5h0m0 0h0m0 1h0m0 1h0m0 6h0m0 3.5h0m0 3.5h0m0 0.5h0m0 0.5h0m0 0.5h0m0 0.5h0m0 2h0m0 0h0m0 3h0m0 1h0m0 0h0m0 1h0m0 0.5h0m0 0.5h0m0 2h0m0.5 -48.5h0m0 4h0m0 0.5h0m0 0.5h0m0 1h0m0 2h0m0 6h0m0 3h0m0 5h0m0 0.5h0m0 0.5h0m0 1h0m0 0.5h0m0 0h0m0 2.5h0m0 2h0m0 0.5h0m0 1.5h0m0 1h0m0 0.5h0m0 0.5h0m0 1h0m0 1h0m0 0h0m0 0.5h0m0 3h0m0 1.5h0m0 1.5h0m0 6.5h0m0 2h0m0 2h0m0 3h0m0 9.5h0m0 14.5h0m0.5 -71h0m0 2.5h0m0 2h0m0 3h0m0 3h0m0 3h0m0 1.5h0m0 0h0m0 0.5h0m0 1h0m0 2h0m0 0.5h0m0 0h0m0 3h0m0 1h0m0 0.5h0m0 0.5h0m0 2h0m0 0h0m0 1.5h0m0 0.5h0m0 0.5h0m0 0.5h0m0 0.5h0m0 6.5h0m0 0h0m0 3h0m0 5h0m0.5 -47h0m0 4h0m0 0.5h0m0 3h0m0 0h0m0 0h0m0 1h0m0 0.5h0m0 0.5h0m0 3h0m0 5.5h0m0 0h0m0 3.5h0m0 0h0m0 3.5h0m0 0h0m0 0.5h0m0 1.5h0m0 0.5h0m0 2h0m0 0h0m0 0.5h0m0 1h0m0 1h0m0 0h0m0 1h0m0 4.5h0m0 1.5h0m0 4h0m0 1.5h0m0 18h0m0 10.5h0m0 13.5h0m0.5 -103h0m0 12h0m0 10h0m0 6.5h0m0 2h0m0 2h0m0 1h0m0 3h0m0 3h0m0 0.5h0m0 3h0m0 0h0m0 0h0m0 1.5h0m0 1h0m0 0h0m0 0.5h0m0 2h0m0 1h0m0 0h0m0 0.5h0m0 0.5h0m0 0h0m0 0.5h0m0 1.5h0m0 0.5h0m0 0.5h0m0 0h0m0 3h0m0 0.5h0m0 4h0m0 3.5h0m0 3.5h0m0 4h0m0 1h0m0 1h0m0.5 -69h0m0 5h0m0 4.5h0m0 1h0m0 1h0m0 3.5h0m0 0.5h0m0 1h0m0 6h0m0 2.5h0m0 0h0m0 1h0m0 2h0m0 0.5h0m0 1.5h0m0 1h0m0 0.5h0m0 0.5h0m0 0.5h0m0 2h0m0 1h0m0 6h0m0 0h0m0 0.5h0m0 1h0m0 0h0m0 4.5h0m0 7.5h0m0 2.5h0m0 2h0m0 3.5h0m0 15h0m0.5 -85h0m0 16.5h0m0 6h0m0 1h0m0 3h0m0 1.5h0m0 2h0m0 0.5h0m0 0.5h0m0 3.5h0m0 1h0m0 1h0m0 1.5h0m0 4h0m0 0.5h0m0 0.5h0m0 0h0m0 0.5h0m0 1.5h0m0 4h0m0 0.5h0m0 1h0m0 1.5h0m0 1h0m0 2.5h0m0 4h0m0 5h0m0 5h0m0 2h0m0 10.5h0m0 6.5h0m0 5.5h0m0 6h0m0.5 -99h0m0 17h0m0 2h0m0 0h0m0 10h0m0 0h0m0 1h0m0 2.5h0m0 3h0m0 1h0m0 0h0m0 0h0m0 4.5h0m0 5.5h0m0 1.5h0m0 1h0m0 0h0m0 1.5h0m0 0.5h0m0 0.5h0m0 0.5h0m0 1.5h0m0 0.5h0m0 8.5h0m0 8h0m0 6.5h0m0.5 -73h0m0 1h0m0 6.5h0m0 8h0m0 5.5h0m0 0.5h0m0 3h0m0 3h0m0 3h0m0 2.5h0m0 0.5h0m0 0h0m0 0h0m0 2h0m0 0.5h0m0 2.5h0m0 0.5h0m0 4h0m0 1h0m0 1h0m0 0.5h0m0 1h0m0 0.5h0m0 0.5h0m0 2h0m0 1h0m0 0.5h0m0 2h0m0 0.5h0m0 1h0m0 8.5h0m0 9.5h0m0 4.5h0m0 5.5h0m0 10h0m0.5 -108h0m0 37h0m0 0.5h0m0 3h0m0 0.5h0m0 2.5h0m0 2h0m0 2h0m0 1h0m0 4h0m0 0.5h0m0 0.5h0m0 0.5h0m0 0.5h0m0 1h0m0 0.5h0m0 1.5h0m0 3.5h0m0 1.5h0m0 0.5h0m0 0.5h0m0 0.5h0m0 0h0m0 5h0m0 0.5h0m0 6.5h0m0 2h0m0 3.5h0m0 7h0m0 2h0m0 7h0m0 16.5h0m0.5 -78.5h0m0 5.5h0m0 1.5h0m0 0.5h0m0 0.5h0m0 0.5h0m0 0h0m0 3h0m0 2h0m0 1.5h0m0 0h0m0 3h0m0 2h0m0 0.5h0m0 0.5h0m0 1h0m0 0h0m0 0.5h0m0 3.5h0m0 2h0m0 0.5h0m0 1.5h0m0 2h0m0 2h0m0 1h0m0 1.5h0m0 1.5h0m0 4h0m0 25h0m0.5 -78h0m0 4.5h0m0 4.5h0m0 3.5h0m0 1.5h0m0 4.5h0m0 1.5h0m0 2h0m0 0.5h0m0 1.5h0m0 1h0m0 0h0m0 3.5h0m0 4.5h0m0 3.5h0m0 3h0m0 1h0m0 3.5h0m0 0.5h0m0 1.5h0m0 8.5h0m0 1.5h0m0 22.5h0m0.5 -105h0m0 25h0m0 6h0m0 2h0m0 1.5h0m0 4.5h0m0 0h0m0 1.5h0m0 0h0m0 0.5h0m0 0h0m0 0.5h0m0 2h0m0 0.5h0m0 0.5h0m0 0.5h0m0 1h0m0 0h0m0 5h0m0 1.5h0m0 1h0m0 0h0m0 1h0m0 0.5h0m0 0.5h0m0 4.5h0m0 3h0m0 0.5h0m0 0.5h0m0 2h0m0 4.5h0m0 5h0m0 4.5h0m0 12h0m0.5 -69h0m0 1h0m0 15h0m0 0h0m0 3h0m0 4.5h0m0 1h0m0 0.5h0m0 1.5h0m0 3.5h0m0 0h0m0 3h0m0 1.5h0m0 0.5h0m0 0h0m0 5.5h0m0 1.5h0m0 1h0m0 5h0m0 8h0m0 0.5h0m0 17.5h0m0 5.5h0m0 14h0m0.5 -96.5h0m0 3.5h0m0 0.5h0m0 2h0m0 12.5h0m0 1h0m0 1h0m0 8h0m0 0h0m0 2.5h0m0 3h0m0 2.5h0m0 2h0m0 0h0m0 8h0m0 4.5h0m0 2.5h0m0 0.5h0m0 0.5h0m0 1h0m0 2h0m0 3.5h0m0 0.5h0m0 3.5h0m0 14.5h0m0 5.5h0m0 1.5h0m0.5 -76h0m0 8h0m0 0.5h0m0 3.5h0m0 5h0m0 0.5h0m0 1h0m0 5h0m0 0h0m0 1.5h0m0 0h0m0 0.5h0m0 4.5h0m0 0.5h0m0 2.5h0m0 1h0m0 1h0m0 1.5h0m0 0h0m0 2h0m0 2h0m0 1h0m0 25.5h0m0.5 -71.5h0m0 6.5h0m0 1h0m0 6h0m0 0.5h0m0 1.5h0m0 0.5h0m0 2.5h0m0 2.5h0m0 0.5h0m0 3h0m0 1h0m0 1h0m0 1.5h0m0 1h0m0 0.5h0m0 1h0m0 0h0m0 4h0m0 2h0m0 5h0m0 6h0m0 2h0m0 5h0m0 3h0m0 16h0m0.5 -91h0m0 2h0m0 9h0m0 2.5h0m0 5.5h0m0 1.5h0m0 2.5h0m0 2.5h0m0 0.5h0m0 2.5h0m0 0h0m0 6h0m0 0h0m0 1.5h0m0 0h0m0 1h0m0 0h0m0 8.5h0m0 3h0m0 6.5h0m0 5.5h0m0 0.5h0m0 2h0m0 0.5h0m0 0h0m0 0.5h0m0 4h0m0.5 -70h0m0 1.5h0m0 2.5h0m0 8h0m0 4.5h0m0 19h0m0 6.5h0m0 1h0m0 1h0m0 1h0m0 0.5h0m0 1.5h0m0 2.5h0m0 2.5h0m0 0.5h0m0 1h0m0 4.5h0m0 2.5h0m0 9.5h0m0 11h0m0 1h0m0.5 -67.5h0m0 3h0m0 1h0m0 11h0m0 5.5h0m0 5.5h0m0 1h0m0 2.5h0m0 3.5h0m0 0.5h0m0 1.5h0m0 2h0m0 1h0m0 5.5h0m0 0.5h0m0 1h0m0 1h0m0 2h0m0 3.5h0m0 29.5h0m0.5 -85h0m0 2.5h0m0 0.5h0m0 8h0m0 2h0m0 1h0m0 7h0m0 2h0m0 8h0m0 1h0m0 3.5h0m0 1h0m0 1.5h0m0 1h0m0 3.5h0m0 1h0m0 2h0m0 5h0m0 0.5h0m0 4.5h0m0 2h0m0 21.5h0m0.5 -83h0m0 13h0m0 2.5h0m0 5h0m0 2.5h0m0 1h0m0 3h0m0 1h0m0 7h0m0 1h0m0 1.5h0m0 1h0m0 0h0m0 2.5h0m0 2.5h0m0 1.5h0m0 4h0m0 0.5h0m0 2h0m0 1.5h0m0 2.5h0m0.5 -57.5h0m0 5h0m0 3.5h0m0 8.5h0m0 3.5h0m0 3h0m0 4.5h0m0 1.5h0m0 2.5h0m0 2.5h0m0 0.5h0m0 0h0m0 5h0m0 4h0m0 2.5h0m0 1h0m0 2h0m0 3h0m0 1.5h0m0 0h0m0 3.5h0m0 16.5h0m0 28h0m0.5 -133.5h0m0 52.5h0m0 0h0m0 0.5h0m0 5.5h0m0 10h0m0 3.5h0m0 0.5h0m0 1.5h0m0 0.5h0m0 4.5h0m0 7.5h0m0 0h0m0 2.5h0m0 7.5h0m0 21.5h0m0.5 -74.5h0m0 15.5h0m0 3.5h0m0 6h0m0 0h0m0 3.5h0m0 0.5h0m0 1.5h0m0 2h0m0 1h0m0 0.5h0m0 0.5h0m0 3h0m0 1.5h0m0 2.5h0m0 1h0m0 5.5h0m0 1.5h0m0 0.5h0m0 19.5h0m0.5 -70.5h0m0 25.5h0m0 2.5h0m0 4h0m0 0.5h0m0 1.5h0m0 1h0m0 1.5h0m0 0.5h0m0 2.5h0m0 14h0m0 28.5h0m0.5 -86h0m0 2.5h0m0 16h0m0 0.5h0m0 4.5h0m0 0h0m0 5.5h0m0 7.5h0m0 4.5h0m0 1h0m0 1h0m0 6h0m0 2h0m0 0.5h0m0 4h0m0 1.5h0m0 5.5h0m0.5 -42.5h0m0 4.5h0m0 0h0m0 3h0m0 4h0m0 0.5h0m0 0.5h0m0 2h0m0 2h0m0 0.5h0m0 0.5h0m0 2.5h0m0 6h0m0 0h0m0 1.5h0m0 3.5h0m0 4.5h0m0 6h0m0.5 -51h0m0 11h0m0 5.5h0m0 7.5h0m0 0.5h0m0 3.5h0m0 1h0m0 3.5h0m0 13.5h0m0 0.5h0m0 7.5h0m0 2.5h0m0 34h0m0.5 -99.5h0m0 7h0m0 12h0m0 1.5h0m0 14.5h0m0 10h0m0 13h0m0 11.5h0m0 2.5h0m0.5 -60.5h0m0 5.5h0m0 1.5h0m0 5h0m0 1.5h0m0 1.5h0m0 3h0m0 6h0m0 0.5h0m0 0.5h0m0 9.5h0m0.5 -56.5h0m0 12.5h0m0 7.5h0m0 0.5h0m0 9.5h0m0 5.5h0m0 7h0m0 9h0m0 0h0m0 1h0m0 2h0m0.5 -51.5h0m0 5h0m0 13h0m0 1.5h0m0 4.5h0m0 4h0m0 5.5h0m0.5 -31h0m0 32h0m0 14h0m0 19.5h0m0.5 -46.5h0m0 7h0m0 7.5h0m0 0h0m0 8.5h0m0 5h0m0 25.5h0m0.5 -46h0m0 1.5h0m0 29.5h0m0 7h0m0 4.5h0m0 0h0m0.5 -57.5h0m0 1.5h0m0 14.5h0m0 1h0m0 1.5h0m0 9.5h0m0 3.5h0m0 13h0m0.5 -69h0m0 21.5h0m0 6h0m0 9h0m0 10h0m0 4h0m0 4h0m0 0.5h0m0.5 -33.5h0m0 3h0m0 5.5h0m0 5h0m0 13h0m0 20.5h0m0 6h0m0 26.5h0m0 20.5h0m0.5 -100h0m0 3.5h0m0 31.5h0m0 4h0m0 6.5h0m0 10h0m0 10h0m0.5 -51h0m0 23h0m0 0h0m0 4h0m0 1h0m0 6h0m0.5 -48.5h0m0 35.5h0m0 4h0m0 1h0m0 4h0m0 14.5h0m0 12.5h0m0 11.5h0m0.5 -75h0m0 8h0m0 11.5h0m0 1h0m0 5h0m0 15.5h0m0.5 -40h0m0 14.5h0m0 3h0m0 9h0m0 3h0m0 0.5h0m0.5 -34.5h0m0 3.5h0m0 17.5h0m0 19.5h0m0 20.5h0m0.5 -66.5h0m0 1h0m0 23h0m0.5 -18.5h0m0 17.5h0m0 4h0m0 1h0m0 5.5h0m0 0h0m0.5 -10.5h0m0 20h0m0.5 -33h0m0 7.5h0m0 36h0m0.5 -42h0m0 18.5h0m0 1.5h0m0 19h0m0.5 -25h0m0 2.5h0m0 2.5h0m0 2.5h0m0 2.5h0m0 4h0m0.5 -3.5h0m0 9.5h0m0 0.5h0m0 33.5h0m0.5 -97h0m0 64h0m0.5 -76.5h0m0 14h0m0 12h0m0 39h0m0.5 -58h0m0 31h0m0 4h0m0 9h0m0 6.5h0m0.5 0h0m0 14.5h0m1 -59h0m0 16.5h0m0 12h0m0 19.5h0m1 -27h0m0 7h0m0.5 -4.5h0m0.5 -3h0m0 14h0m0 41h0m1 -81h0m0 59.5h0m0 36h0m1 15h0m1 -95.5h0m0.5 54.5h0m0.5 23h0m0.5 -43h0m0 37.5h0m0.5 -54.5h0m0.5 6.5h0m0 2h0m0 33h0m0.5 -67.5h0m0.5 1.5h0m0 21h0m1 43.5h0m0.5 -25h0m1 -37h0m0 91.5h0m5 -80.5h0m7.5 78h0m0.5 -45h0m0.5 55h0m0.5 -59h0m6 8h0m0 8h0m5.5 -25.5h0m12.5 38h0" stroke="#1a1a1a" stroke-opacity="0.8" stroke-width="1" stroke-linecap="square" fill="none"/>
<rect x="59.25" y="268.75" width="185.00" height="168.00" fill="none" stroke="#6a6a6a" stroke-width="1.5" />
<line x1="118.75" y1="268.75" x2="118.75" y2="436.75" stroke="#5a5a5a" stroke-width="1" stroke-dasharray="6.5,4.5"/>
<line x1="59.25" y1="383.25" x2="244.25" y2="383.25" stroke="#5a5a5a" stroke-width="1" stroke-dasharray="6.5,4.5"/>
<line x1="240.25" y1="380.50" x2="240.25" y2="386.00" stroke="#555" stroke-width="0.8" />
<line x1="116.75" y1="272.95" x2="120.75" y2="272.95" stroke="#888" stroke-width="0.7" />
<line x1="52.25" y1="436.75" x2="59.25" y2="436.75" stroke="#666" stroke-width="0.9" />
<line x1="55.65" y1="424.11" x2="59.25" y2="424.11" stroke="#666" stroke-width="0.9" />
<line x1="55.65" y1="416.71" x2="59.25" y2="416.71" stroke="#666" stroke-width="0.9" />
<line x1="55.65" y1="411.46" x2="59.25" y2="411.46" stroke="#666" stroke-width="0.9" />
<line x1="55.65" y1="407.39" x2="59.25" y2="407.39" stroke="#666" stroke-width="0.9" />
<line x1="55.65" y1="404.07" x2="59.25" y2="404.07" stroke="#666" stroke-width="0.9" />
<line x1="55.65" y1="401.26" x2="59.25" y2="401.26" stroke="#666" stroke-width="0.9" />
<line x1="55.65" y1="398.82" x2="59.25" y2="398.82" stroke="#666" stroke-width="0.9" />
<line x1="55.65" y1="396.67" x2="59.25" y2="396.67" stroke="#666" stroke-width="0.9" />
<line x1="52.25" y1="394.75" x2="59.25" y2="394.75" stroke="#666" stroke-width="0.9" />
<line x1="55.65" y1="382.11" x2="59.25" y2="382.11" stroke="#666" stroke-width="0.9" />
<line x1="55.65" y1="374.71" x2="59.25" y2="374.71" stroke="#666" stroke-width="0.9" />
<line x1="55.65" y1="369.46" x2="59.25" y2="369.46" stroke="#666" stroke-width="0.9" />
<line x1="55.65" y1="365.39" x2="59.25" y2="365.39" stroke="#666" stroke-width="0.9" />
<line x1="55.65" y1="362.07" x2="59.25" y2="362.07" stroke="#666" stroke-width="0.9" />
<line x1="55.65" y1="359.26" x2="59.25" y2="359.26" stroke="#666" stroke-width="0.9" />
<line x1="55.65" y1="356.82" x2="59.25" y2="356.82" stroke="#666" stroke-width="0.9" />
<line x1="55.65" y1="354.67" x2="59.25" y2="354.67" stroke="#666" stroke-width="0.9" />
<line x1="52.25" y1="352.75" x2="59.25" y2="352.75" stroke="#666" stroke-width="0.9" />
<line x1="55.65" y1="340.11" x2="59.25" y2="340.11" stroke="#666" stroke-width="0.9" />
<line x1="55.65" y1="332.71" x2="59.25" y2="332.71" stroke="#666" stroke-width="0.9" />
<line x1="55.65" y1="327.46" x2="59.25" y2="327.46" stroke="#666" stroke-width="0.9" />
<line x1="55.65" y1="323.39" x2="59.25" y2="323.39" stroke="#666" stroke-width="0.9" />
<line x1="55.65" y1="320.07" x2="59.25" y2="320.07" stroke="#666" stroke-width="0.9" />
<line x1="55.65" y1="317.26" x2="59.25" y2="317.26" stroke="#666" stroke-width="0.9" />
<line x1="55.65" y1="314.82" x2="59.25" y2="314.82" stroke="#666" stroke-width="0.9" />
<line x1="55.65" y1="312.67" x2="59.25" y2="312.67" stroke="#666" stroke-width="0.9" />
<line x1="52.25" y1="310.75" x2="59.25" y2="310.75" stroke="#666" stroke-width="0.9" />
<line x1="55.65" y1="298.11" x2="59.25" y2="298.11" stroke="#666" stroke-width="0.9" />
<line x1="55.65" y1="290.71" x2="59.25" y2="290.71" stroke="#666" stroke-width="0.9" />
<line x1="55.65" y1="285.46" x2="59.25" y2="285.46" stroke="#666" stroke-width="0.9" />
<line x1="55.65" y1="281.39" x2="59.25" y2="281.39" stroke="#666" stroke-width="0.9" />
<line x1="55.65" y1="278.07" x2="59.25" y2="278.07" stroke="#666" stroke-width="0.9" />
<line x1="55.65" y1="275.26" x2="59.25" y2="275.26" stroke="#666" stroke-width="0.9" />
<line x1="55.65" y1="272.82" x2="59.25" y2="272.82" stroke="#666" stroke-width="0.9" />
<line x1="55.65" y1="270.67" x2="59.25" y2="270.67" stroke="#666" stroke-width="0.9" />
<line x1="52.25" y1="268.75" x2="59.25" y2="268.75" stroke="#666" stroke-width="0.9" />
<text x="44.25" y="396.35" font-family="'Liberation Sans',sans-serif" font-weight="bold" font-size="4.6" text-anchor="start" fill="#222" >10</text>
<text x="48.65" y="394.15" font-family="'Liberation Sans',sans-serif" font-weight="normal" font-size="3" text-anchor="start" fill="#333" >0</text>
<text x="44.25" y="354.35" font-family="'Liberation Sans',sans-serif" font-weight="bold" font-size="4.6" text-anchor="start" fill="#222" >10</text>
<text x="48.65" y="352.15" font-family="'Liberation Sans',sans-serif" font-weight="normal" font-size="3" text-anchor="start" fill="#333" >1</text>
<text x="44.25" y="312.35" font-family="'Liberation Sans',sans-serif" font-weight="bold" font-size="4.6" text-anchor="start" fill="#222" >10</text>
<text x="48.65" y="310.15" font-family="'Liberation Sans',sans-serif" font-weight="normal" font-size="3" text-anchor="start" fill="#333" >2</text>
<text x="44.25" y="270.35" font-family="'Liberation Sans',sans-serif" font-weight="bold" font-size="4.6" text-anchor="start" fill="#222" >10</text>
<text x="48.65" y="268.15" font-family="'Liberation Sans',sans-serif" font-weight="normal" font-size="3" text-anchor="start" fill="#333" >3</text>
<line x1="59.25" y1="436.75" x2="59.25" y2="443.75" stroke="#666" stroke-width="0.9" />
<line x1="73.17" y1="436.75" x2="73.17" y2="440.35" stroke="#666" stroke-width="0.9" />
<line x1="81.32" y1="436.75" x2="81.32" y2="440.35" stroke="#666" stroke-width="0.9" />
<line x1="87.10" y1="436.75" x2="87.10" y2="440.35" stroke="#666" stroke-width="0.9" />
<line x1="91.58" y1="436.75" x2="91.58" y2="440.35" stroke="#666" stroke-width="0.9" />
<line x1="95.24" y1="436.75" x2="95.24" y2="440.35" stroke="#666" stroke-width="0.9" />
<line x1="98.34" y1="436.75" x2="98.34" y2="440.35" stroke="#666" stroke-width="0.9" />
<line x1="101.02" y1="436.75" x2="101.02" y2="440.35" stroke="#666" stroke-width="0.9" />
<line x1="103.38" y1="436.75" x2="103.38" y2="440.35" stroke="#666" stroke-width="0.9" />
<line x1="105.50" y1="436.75" x2="105.50" y2="443.75" stroke="#666" stroke-width="0.9" />
<line x1="119.42" y1="436.75" x2="119.42" y2="440.35" stroke="#666" stroke-width="0.9" />
<line x1="127.57" y1="436.75" x2="127.57" y2="440.35" stroke="#666" stroke-width="0.9" />
<line x1="133.35" y1="436.75" x2="133.35" y2="440.35" stroke="#666" stroke-width="0.9" />
<line x1="137.83" y1="436.75" x2="137.83" y2="440.35" stroke="#666" stroke-width="0.9" />
<line x1="141.49" y1="436.75" x2="141.49" y2="440.35" stroke="#666" stroke-width="0.9" />
<line x1="144.59" y1="436.75" x2="144.59" y2="440.35" stroke="#666" stroke-width="0.9" />
<line x1="147.27" y1="436.75" x2="147.27" y2="440.35" stroke="#666" stroke-width="0.9" />
<line x1="149.63" y1="436.75" x2="149.63" y2="440.35" stroke="#666" stroke-width="0.9" />
<text x="101.00" y="449.95" font-family="'Liberation Sans',sans-serif" font-weight="bold" font-size="4.6" text-anchor="start" fill="#222" >10</text>
<line x1="151.75" y1="436.75" x2="151.75" y2="443.75" stroke="#666" stroke-width="0.9" />
<line x1="165.67" y1="436.75" x2="165.67" y2="440.35" stroke="#666" stroke-width="0.9" />
<line x1="173.82" y1="436.75" x2="173.82" y2="440.35" stroke="#666" stroke-width="0.9" />
<line x1="179.60" y1="436.75" x2="179.60" y2="440.35" stroke="#666" stroke-width="0.9" />
<line x1="184.08" y1="436.75" x2="184.08" y2="440.35" stroke="#666" stroke-width="0.9" />
<line x1="187.74" y1="436.75" x2="187.74" y2="440.35" stroke="#666" stroke-width="0.9" />
<line x1="190.84" y1="436.75" x2="190.84" y2="440.35" stroke="#666" stroke-width="0.9" />
<line x1="193.52" y1="436.75" x2="193.52" y2="440.35" stroke="#666" stroke-width="0.9" />
<line x1="195.88" y1="436.75" x2="195.88" y2="440.35" stroke="#666" stroke-width="0.9" />
<text x="147.25" y="449.95" font-family="'Liberation Sans',sans-serif" font-weight="bold" font-size="4.6" text-anchor="start" fill="#222" >10</text>
<line x1="198.00" y1="436.75" x2="198.00" y2="443.75" stroke="#666" stroke-width="0.9" />
<line x1="211.92" y1="436.75" x2="211.92" y2="440.35" stroke="#666" stroke-width="0.9" />
<line x1="220.07" y1="436.75" x2="220.07" y2="440.35" stroke="#666" stroke-width="0.9" />
<line x1="225.85" y1="436.75" x2="225.85" y2="440.35" stroke="#666" stroke-width="0.9" />
<line x1="230.33" y1="436.75" x2="230.33" y2="440.35" stroke="#666" stroke-width="0.9" />
<line x1="233.99" y1="436.75" x2="233.99" y2="440.35" stroke="#666" stroke-width="0.9" />
<line x1="237.09" y1="436.75" x2="237.09" y2="440.35" stroke="#666" stroke-width="0.9" />
<line x1="239.77" y1="436.75" x2="239.77" y2="440.35" stroke="#666" stroke-width="0.9" />
<line x1="242.13" y1="436.75" x2="242.13" y2="440.35" stroke="#666" stroke-width="0.9" />
<text x="193.50" y="449.95" font-family="'Liberation Sans',sans-serif" font-weight="bold" font-size="4.6" text-anchor="start" fill="#222" >10</text>
<line x1="244.25" y1="436.75" x2="244.25" y2="443.75" stroke="#666" stroke-width="0.9" />
<text x="239.75" y="449.95" font-family="'Liberation Sans',sans-serif" font-weight="bold" font-size="4.6" text-anchor="start" fill="#222" >10</text>
<text x="16" y="266.8" font-family="'Liberation Sans',sans-serif" font-weight="bold" font-size="27">C</text>
<text x="87.50" y="264.25" font-family="'Liberation Serif',serif" font-weight="bold" font-size="16.7" text-anchor="start" fill="#000" stroke="#000" stroke-width="0.25" textLength="123.8" lengthAdjust="spacingAndGlyphs" >Gated R1 and R2</text>
<text x="62.00" y="288.00" font-family="'Liberation Serif',serif" font-weight="bold" font-size="14.35" text-anchor="start" fill="#000" stroke="#000" stroke-width="0.25" textLength="65.5" lengthAdjust="spacingAndGlyphs" >27.4±7.4%</text>
<text x="175.00" y="288.00" font-family="'Liberation Serif',serif" font-weight="bold" font-size="14.35" text-anchor="start" fill="#000" stroke="#000" stroke-width="0.25" textLength="65.0" lengthAdjust="spacingAndGlyphs" >72.7±7.5%</text>
<text x="63.75" y="432.00" font-family="'Liberation Serif',serif" font-weight="bold" font-size="14.35" text-anchor="start" fill="#000" stroke="#000" stroke-width="0.25" textLength="58.8" lengthAdjust="spacingAndGlyphs" >0.5±0.2%</text>
<text x="178.75" y="432.00" font-family="'Liberation Serif',serif" font-weight="bold" font-size="14.35" text-anchor="start" fill="#000" stroke="#000" stroke-width="0.25" textLength="58.2" lengthAdjust="spacingAndGlyphs" >2.7±0.2%</text>
<text x="125.00" y="468.50" font-family="'Liberation Serif',serif" font-weight="bold" font-size="16.5" text-anchor="start" fill="#000" stroke="#000" stroke-width="0.25" textLength="40.4" lengthAdjust="spacingAndGlyphs" >CD34</text>
<text transform="translate(29.60,351.40) rotate(-90)" x="0" y="0" font-family="'Liberation Serif',serif" font-weight="bold" font-size="17.4" text-anchor="middle" stroke="#000" stroke-width="0.25" textLength="40.4" lengthAdjust="spacingAndGlyphs">CD38</text>
<ellipse cx="399" cy="362" rx="11" ry="22" fill="#333" fill-opacity="0.7" filter="url(#b3)" transform="rotate(0 399 362)"/>
<path d="M315 371h0m0.5 -43.5h0m2 28h0m0 28.5h0m1 34.5h0m0.5 -25.5h0m0.5 -110.5h0m0.5 96h0m3.5 26h0m1 -10.5h0m1 -31.5h0m0 59.5h0m0.5 -22h0m0 14h0m1 -24.5h0m0 10.5h0m0 4h0m0.5 10.5h0m0.5 -1h0m0.5 -50h0m0 48.5h0m1.5 -115h0m0 99.5h0m0.5 -82h0m0.5 16.5h0m0 74.5h0m1 12.5h0m0 17.5h0m0.5 -23.5h0m0.5 -79.5h0m0 49h0m0 26h0m0.5 -61.5h0m0.5 -17.5h0m0 70h0m0 33h0m0.5 -6.5h0m0.5 -110h0m0 99h0m0 5h0m0.5 -65.5h0m0.5 -24.5h0m0 47h0m0.5 -13.5h0m0 30.5h0m0.5 13h0m0 9.5h0m0.5 -86h0m0.5 -32h0m0 132.5h0m1 -60.5h0m0.5 27.5h0m0.5 -0.5h0m0 13h0m0.5 -67.5h0m0 18h0m0.5 -75h0m0 31.5h0m0 28h0m0 43.5h0m0 20.5h0m0.5 -84.5h0m0 17h0m0.5 -14.5h0m0 27.5h0m0 16.5h0m0 41h0m0 10h0m0 4h0m0.5 -32.5h0m0.5 -58h0m0 28h0m0 10.5h0m0 39.5h0m0.5 -49h0m0.5 -24h0m0 23.5h0m0.5 36h0m0.5 -68.5h0m0 13.5h0m0 33.5h0m0 18h0m0 14h0m0.5 -69.5h0m0 11h0m0 10h0m0.5 -42.5h0m0 39h0m0 49.5h0m0.5 -133.5h0m0.5 123.5h0m0 24h0m0.5 -88h0m0 18h0m0 10.5h0m0 29h0m0.5 -29h0m0 30h0m0 17h0m0.5 -77.5h0m0 58h0m0.5 -40h0m0 47.5h0m1 -47h0m0 7.5h0m0 50h0m0.5 -81h0m0 26.5h0m0 72.5h0m0.5 -80h0m0 55h0m0 6h0m0 0h0m0 3.5h0m0 8h0m0 11.5h0m0.5 -48.5h0m0 8.5h0m0 10h0m0 21h0m0.5 -106.5h0m0 20h0m0.5 0.5h0m0 68.5h0m0 2.5h0m0.5 -113h0m0 109h0m0 20.5h0m0.5 -115.5h0m0 42h0m0 57h0m0 4h0m0.5 -134.5h0m0 132.5h0m0.5 -13h0m0 18h0m0 3h0m0.5 -3.5h0m0.5 -34h0m0 35h0m0.5 -39h0m0 26h0m0 13.5h0m0 15h0m0.5 -109h0m0 45.5h0m0 38h0m0.5 -57.5h0m0.5 -40.5h0m0 44.5h0m0 7.5h0m0 5.5h0m0 6h0m0 45h0m0.5 -59.5h0m0 42.5h0m0 6.5h0m0 16h0m0.5 -94h0m0 53.5h0m0 24h0m0 0h0m0.5 -94.5h0m0 39.5h0m0 32.5h0m0.5 -55h0m0 29.5h0m0 28h0m0 4h0m0 15h0m0 32.5h0m1 -73h0m0 24.5h0m0 15.5h0m0 13.5h0m0.5 -45h0m0.5 -48.5h0m0 65.5h0m0 27.5h0m0.5 -54.5h0m0 19h0m0 20h0m0 6h0m0 8.5h0m0.5 -42.5h0m0 19.5h0m0 5.5h0m0.5 -37.5h0m0 61.5h0m0.5 -44.5h0m0 0h0m0.5 -41.5h0m0 64h0m0 10.5h0m0.5 -87h0m0 4.5h0m0 8.5h0m0 68h0m0.5 -68.5h0m0 30h0m0 16.5h0m0 37.5h0m0.5 -98.5h0m0 39h0m0 9.5h0m0 32.5h0m0 12h0m0.5 -91h0m0 53h0m0 27.5h0m0.5 -42h0m0 5.5h0m0 1.5h0m0 42h0m0.5 -90.5h0m0 10.5h0m0 25.5h0m0 14h0m0 47h0m0 10.5h0m0.5 -55.5h0m0 3h0m0 59.5h0m0.5 -80.5h0m0 56.5h0m0.5 -88.5h0m0 2h0m0 63h0m0 5h0m0.5 -21h0m0.5 -26h0m0.5 17.5h0m0.5 -7h0m0 35.5h0m0 1.5h0m0.5 -57.5h0m0 11h0m0 9h0m0 5h0m0 1.5h0m0 1.5h0m0 26.5h0m0 39.5h0m0.5 -120h0m0 20.5h0m0 8h0m0 59h0m0 8.5h0m0.5 -59h0m0 51.5h0m0.5 -84.5h0m0 44h0m0 9h0m0 23.5h0m0 28.5h0m0.5 -83h0m0 19.5h0m0 12h0m0 7.5h0m0 19h0m0.5 -71h0m0 7.5h0m0 6.5h0m0 6.5h0m0 6.5h0m0 5.5h0m0 16.5h0m0 13.5h0m0 5h0m0 13.5h0m0 3h0m0.5 -68.5h0m0 22.5h0m0 13.5h0m0.5 -33.5h0m0 12h0m0 9h0m0 8h0m0.5 -20h0m0 14.5h0m0 2.5h0m0 8h0m0 14h0m0 2.5h0m0.5 -25.5h0m0 36.5h0m0.5 -68.5h0m0 1h0m0 3h0m0 1h0m0 3.5h0m0 16h0m0 21.5h0m0 39h0m0 1.5h0m0.5 -70h0m0 6.5h0m0 5h0m0 52.5h0m0.5 -32h0m0 0.5h0m0 16.5h0m0 20h0m0.5 -60h0m0 0.5h0m0 2h0m0 1.5h0m0 1h0m0 2h0m0 12.5h0m0 10h0m0.5 -28h0m0 11.5h0m0 1.5h0m0 6h0m0 3.5h0m0 16h0m0 1.5h0m0.5 -84h0m0 17.5h0m0 29.5h0m0 2h0m0 3.5h0m0 4.5h0m0 12.5h0m0 8.5h0m0.5 -59.5h0m0 29.5h0m0 8h0m0 4.5h0m0 0h0m0 7.5h0m0 9h0m0 23h0m0 3h0m0.5 -78.5h0m0 1.5h0m0 3.5h0m0 8h0m0 1.5h0m0 4h0m0 2.5h0m0 11.5h0m0 3.5h0m0 8h0m0 4.5h0m0.5 -57h0m0 10h0m0 18.5h0m0 4.5h0m0 3h0m0 7h0m0 2h0m0 1h0m0 28h0m0.5 -111h0m0 35h0m0 10.5h0m0 0.5h0m0 25.5h0m0 3h0m0 0h0m0 3h0m0 10h0m0.5 -56.5h0m0 7h0m0 6h0m0 2h0m0 2.5h0m0 13.5h0m0 8.5h0m0 0.5h0m0 2.5h0m0 7.5h0m0 19h0m0 7h0m0.5 -77.5h0m0 9h0m0 10h0m0 13.5h0m0 1.5h0m0 6.5h0m0 4h0m0 11h0m0 5.5h0m0 2h0m0 3h0m0.5 -46h0m0 3h0m0 11.5h0m0 17.5h0m0 3h0m0 3.5h0m0 5h0m0 20h0m0.5 -96h0m0 38h0m0 6h0m0 0h0m0 20h0m0 1h0m0 3h0m0 56h0m0.5 -93.5h0m0 1h0m0 19h0m0 2h0m0 5h0m0 12.5h0m0 7h0m0 16.5h0m0.5 -112h0m0 37h0m0 7.5h0m0 6h0m0 6.5h0m0 0.5h0m0 4.5h0m0 7.5h0m0 0.5h0m0 0.5h0m0 4.5h0m0 1.5h0m0 3.5h0m0 0h0m0 0.5h0m0 4h0m0 3.5h0m0 15.5h0m0.5 -80.5h0m0 24.5h0m0 6.5h0m0 7.5h0m0 1h0m0 0.5h0m0 10h0m0 0.5h0m0 1.5h0m0 3h0m0 1h0m0 4h0m0 10h0m0 6.5h0m0 4h0m0 9h0m0.5 -86.5h0m0 10.5h0m0 12.5h0m0 0.5h0m0 6h0m0 10h0m0 23.5h0m0 5.5h0m0 3.5h0m0 0h0m0 0.5h0m0 28.5h0m0.5 -101h0m0 26h0m0 1.5h0m0 8h0m0 4.5h0m0 1.5h0m0 4h0m0 2.5h0m0 6h0m0 7.5h0m0 1.5h0m0 3.5h0m0 6.5h0m0 5.5h0m0.5 -67.5h0m0 6.5h0m0 3h0m0 2.5h0m0 6h0m0 3.5h0m0 0.5h0m0 1.5h0m0 1.5h0m0 1h0m0 2h0m0 1.5h0m0 6h0m0 9h0m0 6.5h0m0 0.5h0m0 23.5h0m0.5 -77h0m0 9h0m0 1h0m0 11.5h0m0 7h0m0 6.5h0m0 0h0m0 5.5h0m0 1.5h0m0 1h0m0 3.5h0m0 2h0m0 0.5h0m0 5h0m0 0.5h0m0 13.5h0m0 5.5h0m0.5 -67h0m0 11h0m0 4h0m0 3.5h0m0 2h0m0 1.5h0m0 3h0m0 5h0m0 2h0m0 1.5h0m0 4.5h0m0 2.5h0m0 2.5h0m0 2.5h0m0 2h0m0 2h0m0 4h0m0 7h0m0 16.5h0m0.5 -78.5h0m0 5h0m0 0h0m0 6h0m0 2.5h0m0 12h0m0 3.5h0m0 1.5h0m0 1h0m0 3.5h0m0 0.5h0m0 0.5h0m0 0.5h0m0 3.5h0m0 2.5h0m0 7h0m0 0.5h0m0 2h0m0.5 -78.5h0m0 38.5h0m0 3h0m0 0.5h0m0 1.5h0m0 1.5h0m0 1.5h0m0 1h0m0 1.5h0m0 1h0m0 0.5h0m0 1h0m0 1.5h0m0 2h0m0 4h0m0 1.5h0m0 2.5h0m0 0.5h0m0 2.5h0m0 12h0m0 4h0m0 3h0m0 17.5h0m0.5 -78h0m0 2.5h0m0 18h0m0 0.5h0m0 3h0m0 2h0m0 1h0m0 0.5h0m0 1.5h0m0 3h0m0 3.5h0m0 8.5h0m0 7h0m0 4.5h0m0 16h0m0 13h0m0.5 -95h0m0 8.5h0m0 6h0m0 5h0m0 2h0m0 1h0m0 3h0m0 2h0m0 3h0m0 0.5h0m0 0.5h0m0 4.5h0m0 4.5h0m0 1.5h0m0 0h0m0 1.5h0m0 1h0m0 1.5h0m0 1.5h0m0 1h0m0 0.5h0m0 1h0m0 3.5h0m0 0.5h0m0 0h0m0 1.5h0m0 0h0m0 3.5h0m0 0.5h0m0 1h0m0 1.5h0m0 0.5h0m0 3.5h0m0 0.5h0m0 4h0m0 1.5h0m0.5 -87h0m0 24.5h0m0 1h0m0 8.5h0m0 7.5h0m0 5h0m0 5h0m0 0.5h0m0 4h0m0 0h0m0 2.5h0m0 0.5h0m0 1h0m0 1h0m0 0h0m0 0.5h0m0 4h0m0 2h0m0 1h0m0 0.5h0m0 1h0m0 5h0m0 4.5h0m0 1.5h0m0 13.5h0m0 1.5h0m0 4h0m0.5 -87.5h0m0 10.5h0m0 7.5h0m0 6.5h0m0 1.5h0m0 1h0m0 1h0m0 1h0m0 1h0m0 0h0m0 0.5h0m0 1h0m0 1h0m0 1h0m0 2h0m0 0.5h0m0 3h0m0 5.5h0m0 1h0m0 0.5h0m0 0h0m0 2h0m0 3h0m0 0.5h0m0 1.5h0m0 4h0m0 1h0m0 1.5h0m0 6h0m0 1.5h0m0 1.5h0m0 10h0m0 23h0m0.5 -115h0m0 12.5h0m0 15h0m0 6.5h0m0 1.5h0m0 2.5h0m0 1.5h0m0 0.5h0m0 4h0m0 0.5h0m0 0.5h0m0 2.5h0m0 0h0m0 2.5h0m0 0.5h0m0 2.5h0m0 2h0m0 3.5h0m0 2h0m0 3.5h0m0 4.5h0m0 0h0m0 0.5h0m0 0.5h0m0 8h0m0 1.5h0m0 10.5h0m0 4h0m0 15.5h0m0.5 -98h0m0 5h0m0 11.5h0m0 6.5h0m0 4.5h0m0 1h0m0 3.5h0m0 1.5h0m0 0h0m0 1.5h0m0 0.5h0m0 6h0m0 0h0m0 1.5h0m0 1h0m0 1.5h0m0 5.5h0m0 1.5h0m0 0h0m0 1h0m0 0h0m0 0h0m0 3h0m0 2.5h0m0 0h0m0 0.5h0m0 2h0m0 0.5h0m0 0.5h0m0 6h0m0 0.5h0m0 1.5h0m0 10h0m0 9.5h0m0.5 -70.5h0m0 0.5h0m0 0.5h0m0 10h0m0 3h0m0 0.5h0m0 0h0m0 0.5h0m0 0.5h0m0 0h0m0 3h0m0 0.5h0m0 2.5h0m0 0h0m0 0.5h0m0 1h0m0 0.5h0m0 0.5h0m0 1h0m0 0.5h0m0 0.5h0m0 1.5h0m0 0.5h0m0 0h0m0 1h0m0 0.5h0m0 3h0m0 0.5h0m0 1h0m0 1h0m0 0h0m0 0.5h0m0 0h0m0 5h0m0 0.5h0m0 0h0m0 4.5h0m0 3.5h0m0 1.5h0m0 0.5h0m0 3h0m0 9h0m0.5 -68.5h0m0 2.5h0m0 6h0m0 1h0m0 0.5h0m0 3.5h0m0 0h0m0 1h0m0 1.5h0m0 2.5h0m0 2h0m0 0.5h0m0 0.5h0m0 0.5h0m0 0h0m0 1h0m0 2h0m0 2h0m0 0h0m0 2h0m0 1h0m0 2.5h0m0 0.5h0m0 5.5h0m0 1h0m0 1.5h0m0 0.5h0m0 0.5h0m0 0.5h0m0 1h0m0 3.5h0m0 0h0m0 1h0m0 2h0m0 0.5h0m0 1.5h0m0 0.5h0m0 0.5h0m0 5h0m0 2.5h0m0 3.5h0m0.5 -71h0m0 2.5h0m0 6h0m0 9h0m0 0.5h0m0 0.5h0m0 1h0m0 0h0m0 3.5h0m0 0h0m0 1h0m0 0h0m0 4.5h0m0 0.5h0m0 0.5h0m0 0.5h0m0 4.5h0m0 0.5h0m0 3h0m0 0h0m0 1h0m0 1.5h0m0 0.5h0m0 0h0m0 0.5h0m0 0.5h0m0 0.5h0m0 1.5h0m0 2h0m0 1h0m0 0h0m0 1.5h0m0 0h0m0 0.5h0m0 0h0m0 1h0m0 0.5h0m0 1h0m0 0h0m0 0h0m0 4.5h0m0 0.5h0m0 0h0m0 5.5h0m0 0.5h0m0 0h0m0 2h0m0 15h0m0.5 -104.5h0m0 9.5h0m0 25.5h0m0 2h0m0 5h0m0 2h0m0 1.5h0m0 2.5h0m0 3h0m0 0.5h0m0 1.5h0m0 0h0m0 0.5h0m0 0.5h0m0 4h0m0 6h0m0 1.5h0m0 2h0m0 0h0m0 0.5h0m0 0h0m0 1h0m0 1.5h0m0 0h0m0 1h0m0 3h0m0 0h0m0 0.5h0m0 0h0m0 2h0m0 1.5h0m0 2.5h0m0 0.5h0m0 0.5h0m0 0.5h0m0 3.5h0m0 0.5h0m0 0.5h0m0 5.5h0m0 1.5h0m0.5 -81h0m0 2h0m0 14h0m0 7h0m0 4.5h0m0 0.5h0m0 3h0m0 1h0m0 1h0m0 1h0m0 5.5h0m0 1h0m0 0h0m0 4h0m0 1.5h0m0 0h0m0 0.5h0m0 0.5h0m0 0h0m0 2h0m0 1.5h0m0 3.5h0m0 0.5h0m0 0.5h0m0 2h0m0 0h0m0 4.5h0m0 1h0m0 1h0m0 0h0m0 1h0m0 0.5h0m0 3h0m0 0.5h0m0 0.5h0m0 4.5h0m0 1.5h0m0 3h0m0 10.5h0m0 0.5h0m0.5 -57.5h0m0 5h0m0 2h0m0 1.5h0m0 2h0m0 3h0m0 1.5h0m0 0h0m0 0h0m0 0.5h0m0 0h0m0 0.5h0m0 0.5h0m0 0.5h0m0 0.5h0m0 0.5h0m0 2.5h0m0 0h0m0 1h0m0 0.5h0m0 0.5h0m0 1.5h0m0 1.5h0m0 1.5h0m0 2.5h0m0 0h0m0 1.5h0m0 1h0m0 0h0m0 1.5h0m0 2h0m0 1h0m0 0.5h0m0 0.5h0m0 6.5h0m0 1h0m0 5.5h0m0 3h0m0 6h0m0.5 -87h0m0 14h0m0 5h0m0 13.5h0m0 0.5h0m0 1h0m0 3.5h0m0 1.5h0m0 0h0m0 0.5h0m0 1h0m0 2h0m0 1h0m0 0.5h0m0 1h0m0 1h0m0 0.5h0m0 2.5h0m0 0h0m0 3h0m0 0.5h0m0 1h0m0 1h0m0 0h0m0 0.5h0m0 0.5h0m0 0.5h0m0 0.5h0m0 0h0m0 0.5h0m0 0h0m0 0h0m0 0.5h0m0 0h0m0 1h0m0 1.5h0m0 0h0m0 0.5h0m0 0h0m0 1.5h0m0 4h0m0 4h0m0 1h0m0 0.5h0m0 0.5h0m0 25.5h0m0.5 -79h0m0 2h0m0 2.5h0m0 3h0m0 6.5h0m0 2h0m0 1h0m0 0h0m0 1h0m0 0h0m0 1h0m0 0h0m0 2.5h0m0 0.5h0m0 0.5h0m0 0.5h0m0 2h0m0 0h0m0 1h0m0 2.5h0m0 1h0m0 1.5h0m0 0.5h0m0 0.5h0m0 0.5h0m0 1h0m0 2.5h0m0 1h0m0 0h0m0 0.5h0m0 0.5h0m0 0.5h0m0 0h0m0 1h0m0 1h0m0 3h0m0 0h0m0 3.5h0m0 0h0m0 0.5h0m0 0.5h0m0 2h0m0 3.5h0m0 0h0m0 0.5h0m0 3h0m0 1h0m0 0.5h0m0 1.5h0m0 2h0m0 15h0m0 12h0m0 0.5h0m0.5 -96h0m0 3h0m0 5h0m0 3h0m0 2.5h0m0 2.5h0m0 0.5h0m0 0.5h0m0 0.5h0m0 3h0m0 1h0m0 2h0m0 0.5h0m0 0.5h0m0 1h0m0 2.5h0m0 0.5h0m0 0h0m0 0.5h0m0 1.5h0m0 3h0m0 0h0m0 1h0m0 0.5h0m0 2h0m0 2h0m0 0.5h0m0 1.5h0m0 0.5h0m0 0h0m0 0.5h0m0 0h0m0 0.5h0m0 0h0m0 1h0m0 0.5h0m0 0h0m0 3h0m0 0.5h0m0 0h0m0 1h0m0 1.5h0m0 2h0m0 0.5h0m0 1h0m0 0h0m0 2.5h0m0 0h0m0 2h0m0 14h0m0.5 -94.5h0m0 37h0m0 3h0m0 0.5h0m0 1h0m0 1.5h0m0 1.5h0m0 0h0m0 0.5h0m0 0h0m0 0h0m0 0h0m0 0h0m0 0.5h0m0 0.5h0m0 4h0m0 0h0m0 1.5h0m0 0.5h0m0 1.5h0m0 0.5h0m0 0.5h0m0 0.5h0m0 1h0m0 0h0m0 2h0m0 0h0m0 1h0m0 0.5h0m0 1.5h0m0 1h0m0 0h0m0 0.5h0m0 0.5h0m0 1h0m0 1.5h0m0 2.5h0m0 0.5h0m0 0.5h0m0 0h0m0 1.5h0m0 0.5h0m0 2.5h0m0 0h0m0 2h0m0 1h0m0 0.5h0m0 0h0m0 2h0m0 2h0m0 0.5h0m0 2h0m0 14h0m0.5 -81.5h0m0 12.5h0m0 7h0m0 0.5h0m0 0h0m0 6h0m0 3.5h0m0 1.5h0m0 0.5h0m0 0h0m0 1h0m0 0h0m0 1h0m0 1h0m0 0.5h0m0 0h0m0 1.5h0m0 0h0m0 0.5h0m0 1h0m0 1h0m0 5h0m0 0.5h0m0 1.5h0m0 0.5h0m0 0.5h0m0 0h0m0 0h0m0 0h0m0 0.5h0m0 1h0m0 0h0m0 0h0m0 1h0m0 0h0m0 1h0m0 2.5h0m0 0.5h0m0 0.5h0m0 0.5h0m0 0h0m0 0h0m0 0.5h0m0 0.5h0m0 2.5h0m0 0.5h0m0 0.5h0m0 0h0m0 0.5h0m0 1h0m0 0.5h0m0 0.5h0m0 0h0m0 0.5h0m0 0.5h0m0 2.5h0m0 0.5h0m0 0.5h0m0 1.5h0m0 1h0m0 3.5h0m0 30h0m0 2h0m0.5 -117h0m0 24h0m0 1h0m0 4h0m0 3.5h0m0 1h0m0 0.5h0m0 1h0m0 0h0m0 1.5h0m0 0.5h0m0 1.5h0m0 1.5h0m0 0h0m0 1h0m0 0.5h0m0 2h0m0 1.5h0m0 1h0m0 0h0m0 0.5h0m0 2h0m0 0h0m0 0.5h0m0 0.5h0m0 5.5h0m0 1h0m0 1.5h0m0 0.5h0m0 0.5h0m0 0h0m0 1h0m0 2.5h0m0 0h0m0 2h0m0 0.5h0m0 1h0m0 2h0m0 1h0m0 2h0m0 0h0m0 0.5h0m0 1.5h0m0 0.5h0m0 1h0m0 0h0m0 1h0m0 2.5h0m0 0h0m0 1.5h0m0 0.5h0m0 3h0m0 1.5h0m0 2.5h0m0 5.5h0m0.5 -71.5h0m0 3.5h0m0 1.5h0m0 2h0m0 9h0m0 0h0m0 0.5h0m0 0h0m0 0.5h0m0 2h0m0 0h0m0 1.5h0m0 0h0m0 1h0m0 4.5h0m0 0h0m0 0.5h0m0 2.5h0m0 0h0m0 0h0m0 0.5h0m0 1h0m0 2.5h0m0 1h0m0 1h0m0 0h0m0 1h0m0 0h0m0 1h0m0 0.5h0m0 2h0m0 0.5h0m0 0.5h0m0 0h0m0 1h0m0 0h0m0 2h0m0 0.5h0m0 1h0m0 0h0m0 0.5h0m0 3h0m0 0h0m0 0.5h0m0 1h0m0 1h0m0 0h0m0 6h0m0 2.5h0m0 2.5h0m0 1h0m0 19.5h0m0 13.5h0m0.5 -126h0m0 33h0m0 0.5h0m0 0h0m0 3h0m0 1.5h0m0 2.5h0m0 1.5h0m0 2h0m0 2.5h0m0 1.5h0m0 4h0m0 0.5h0m0 0.5h0m0 0.5h0m0 2h0m0 2h0m0 0.5h0m0 1h0m0 1h0m0 2.5h0m0 0h0m0 0h0m0 1h0m0 0h0m0 1h0m0 0.5h0m0 4h0m0 0.5h0m0 1h0m0 0.5h0m0 0h0m0 0.5h0m0 0.5h0m0 0.5h0m0 1.5h0m0 3h0m0 0h0m0 2.5h0m0 4.5h0m0 2.5h0m0 10h0m0 0.5h0m0 15.5h0m0 4h0m0.5 -89.5h0m0 7.5h0m0 2h0m0 1.5h0m0 0h0m0 1.5h0m0 0.5h0m0 5.5h0m0 4.5h0m0 0h0m0 2h0m0 1h0m0 3.5h0m0 2h0m0 0h0m0 0.5h0m0 0.5h0m0 0h0m0 0h0m0 1h0m0 1h0m0 0h0m0 0.5h0m0 0h0m0 0.5h0m0 0h0m0 0.5h0m0 0.5h0m0 0h0m0 0.5h0m0 1.5h0m0 1.5h0m0 3h0m0 0h0m0 0.5h0m0 0h0m0 1.5h0m0 0.5h0m0 0.5h0m0 0h0m0 0.5h0m0 0.5h0m0 0.5h0m0 0h0m0 2h0m0 0.5h0m0 1h0m0 0h0m0 1h0m0 0.5h0m0 1.5h0m0 0h0m0 1h0m0 0h0m0 0.5h0m0 0h0m0 2.5h0m0 0h0m0 1.5h0m0 4h0m0 0h0m0 1h0m0 5h0m0 6h0m0 2.5h0m0.5 -83.5h0m0 13h0m0 8h0m0 2.5h0m0 0h0m0 1h0m0 0.5h0m0 0.5h0m0 1h0m0 0h0m0 0.5h0m0 1h0m0 0h0m0 1h0m0 0.5h0m0 1h0m0 4.5h0m0 0.5h0m0 1.5h0m0 0h0m0 1.5h0m0 3.5h0m0 0.5h0m0 0.5h0m0 0.5h0m0 0.5h0m0 2h0m0 0.5h0m0 0h0m0 1.5h0m0 0h0m0 0.5h0m0 1h0m0 1.5h0m0 0.5h0m0 0.5h0m0 0.5h0m0 0.5h0m0 3.5h0m0 0.5h0m0 0.5h0m0 2h0m0 1h0m0 0h0m0 1h0m0 1h0m0 1.5h0m0 1h0m0 1h0m0 1h0m0 2h0m0 45h0m0.5 -111.5h0m0 12h0m0 4.5h0m0 3h0m0 1h0m0 5h0m0 1h0m0 1h0m0 0h0m0 0.5h0m0 3.5h0m0 1h0m0 0h0m0 0.5h0m0 0.5h0m0 0h0m0 1h0m0 0.5h0m0 0.5h0m0 0.5h0m0 2.5h0m0 1.5h0m0 0.5h0m0 2h0m0 0.5h0m0 0.5h0m0 0.5h0m0 0.5h0m0 0.5h0m0 0.5h0m0 1h0m0 0.5h0m0 0h0m0 3.5h0m0 0.5h0m0 1h0m0 2h0m0 0h0m0 0h0m0 1.5h0m0 0h0m0 2h0m0 1.5h0m0 1h0m0 1h0m0 1.5h0m0 14h0m0 15.5h0m0.5 -75.5h0m0 1.5h0m0 2h0m0 7h0m0 0.5h0m0 1.5h0m0 0.5h0m0 0h0m0 0h0m0 2h0m0 2.5h0m0 0h0m0 1.5h0m0 0.5h0m0 0h0m0 0.5h0m0 0.5h0m0 1h0m0 0.5h0m0 0.5h0m0 1.5h0m0 0h0m0 1.5h0m0 0.5h0m0 0h0m0 1h0m0 0h0m0 0h0m0 2h0m0 0h0m0 1.5h0m0 0h0m0 0.5h0m0 0h0m0 1.5h0m0 0.5h0m0 0.5h0m0 0h0m0 0.5h0m0 0h0m0 0.5h0m0 3.5h0m0 1.5h0m0 0.5h0m0 1h0m0 1h0m0 0h0m0 5.5h0m0 2h0m0 1.5h0m0 0.5h0m0 0.5h0m0 4.5h0m0 1.5h0m0 3.5h0m0.5 -73.5h0m0 7h0m0 3.5h0m0 1h0m0 0.5h0m0 6h0m0 1h0m0 0h0m0 0.5h0m0 1h0m0 1h0m0 0h0m0 2.5h0m0 0.5h0m0 0.5h0m0 2h0m0 0.5h0m0 0.5h0m0 0.5h0m0 1.5h0m0 1h0m0 0.5h0m0 1.5h0m0 3h0m0 0h0m0 1h0m0 0h0m0 0h0m0 1h0m0 0h0m0 0.5h0m0 0h0m0 0.5h0m0 1h0m0 0.5h0m0 0.5h0m0 0h0m0 0h0m0 1h0m0 0h0m0 0.5h0m0 1h0m0 0.5h0m0 3.5h0m0 0h0m0 1h0m0 0.5h0m0 1.5h0m0 1h0m0 3.5h0m0 0h0m0 0.5h0m0 3h0m0 0h0m0 1h0m0 14.5h0m0 2.5h0m0 5h0m0 6h0m0.5 -95h0m0 11h0m0 2h0m0 11.5h0m0 2h0m0 3h0m0 0.5h0m0 1.5h0m0 0h0m0 0.5h0m0 1h0m0 0h0m0 1h0m0 0.5h0m0 0.5h0m0 4.5h0m0 0.5h0m0 0h0m0 0.5h0m0 0h0m0 0.5h0m0 0h0m0 1h0m0 0.5h0m0 1h0m0 1h0m0 0h0m0 1.5h0m0 1.5h0m0 3h0m0 1h0m0 0h0m0 1h0m0 1h0m0 0h0m0 0.5h0m0 0h0m0 0h0m0 0.5h0m0 1.5h0m0 0.5h0m0 0h0m0 2.5h0m0 1h0m0 1.5h0m0 0.5h0m0 1h0m0 0h0m0 1h0m0 35h0m0 0.5h0m0.5 -93.5h0m0 9h0m0 1h0m0 1.5h0m0 6h0m0 2h0m0 0h0m0 1.5h0m0 0.5h0m0 4.5h0m0 0.5h0m0 0.5h0m0 0.5h0m0 0.5h0m0 0.5h0m0 0.5h0m0 0h0m0 0.5h0m0 5.5h0m0 0h0m0 0.5h0m0 0h0m0 0.5h0m0 0.5h0m0 0.5h0m0 0.5h0m0 3h0m0 1h0m0 1h0m0 2h0m0 1h0m0 1h0m0 0h0m0 1h0m0 0.5h0m0 1h0m0 0.5h0m0 1h0m0 1.5h0m0 1.5h0m0 1.5h0m0 0.5h0m0 1.5h0m0 1h0m0 0h0m0 0.5h0m0 1h0m0 2.5h0m0 2h0m0 1h0m0 1.5h0m0 3.5h0m0 7h0m0 1.5h0m0.5 -77h0m0 1.5h0m0 1.5h0m0 5h0m0 1.5h0m0 7.5h0m0 3h0m0 1.5h0m0 1h0m0 1h0m0 2h0m0 1.5h0m0 1.5h0m0 0h0m0 0.5h0m0 1.5h0m0 0.5h0m0 0h0m0 1h0m0 0h0m0 1h0m0 1h0m0 0h0m0 0.5h0m0 0.5h0m0 0.5h0m0 1.5h0m0 0.5h0m0 0.5h0m0 0h0m0 1h0m0 1h0m0 0h0m0 1.5h0m0 0h0m0 1h0m0 0h0m0 0.5h0m0 0h0m0 1h0m0 2h0m0 0.5h0m0 4.5h0m0 3.5h0m0 1.5h0m0 1.5h0m0 0.5h0m0 4.5h0m0 0.5h0m0 3.5h0m0 4.5h0m0 0h0m0.5 -77h0m0 3h0m0 3.5h0m0 6h0m0 4h0m0 8h0m0 0.5h0m0 2h0m0 1.5h0m0 1h0m0 0.5h0m0 0.5h0m0 1h0m0 0.5h0m0 0.5h0m0 1h0m0 0h0m0 0.5h0m0 0.5h0m0 1.5h0m0 0.5h0m0 0.5h0m0 0h0m0 3.5h0m0 0h0m0 1h0m0 0h0m0 1.5h0m0 0h0m0 0.5h0m0 0.5h0m0 2.5h0m0 1h0m0 0.5h0m0 0h0m0 1.5h0m0 0.5h0m0 0.5h0m0 1.5h0m0 0.5h0m0 0.5h0m0 1h0m0 0.5h0m0 1.5h0m0 0h0m0 0.5h0m0 0.5h0m0 0h0m0 0.5h0m0 0h0m0 1h0m0 2h0m0 5h0m0 0.5h0m0 3h0m0 0.5h0m0.5 -54h0m0 4.5h0m0 1h0m0 2h0m0 1h0m0 0.5h0m0 3.5h0m0 0.5h0m0 0.5h0m0 0.5h0m0 4h0m0 1h0m0 0h0m0 1h0m0 1.5h0m0 1h0m0 1h0m0 1.5h0m0 0h0m0 0.5h0m0 0h0m0 0.5h0m0 1h0m0 1h0m0 0h0m0 1h0m0 0.5h0m0 1h0m0 1.5h0m0 0.5h0m0 0.5h0m0 3h0m0 1h0m0 0.5h0m0 0.5h0m0 0.5h0m0 1h0m0 0h0m0 1h0m0 1h0m0 1.5h0m0 0.5h0m0 2h0m0 5.5h0m0 2h0m0 3h0m0 13.5h0m0 2.5h0m0.5 -86h0m0 14h0m0 6.5h0m0 1.5h0m0 2h0m0 3.5h0m0 0.5h0m0 1h0m0 2h0m0 0.5h0m0 0.5h0m0 2h0m0 1h0m0 2h0m0 0.5h0m0 0h0m0 1h0m0 0.5h0m0 1.5h0m0 2h0m0 1.5h0m0 1.5h0m0 0.5h0m0 1h0m0 0.5h0m0 2h0m0 0h0m0 2h0m0 0h0m0 1h0m0 0h0m0 0.5h0m0 0h0m0 2h0m0 4.5h0m0 3h0m0 0.5h0m0 9.5h0m0 2h0m0 3h0m0 9.5h0m0.5 -76h0m0 3.5h0m0 5.5h0m0 3.5h0m0 0.5h0m0 1h0m0 1.5h0m0 0h0m0 2h0m0 0h0m0 0.5h0m0 0h0m0 0h0m0 4.5h0m0 2.5h0m0 0.5h0m0 0.5h0m0 2h0m0 0h0m0 1h0m0 0.5h0m0 0.5h0m0 1h0m0 0h0m0 0.5h0m0 0h0m0 0.5h0m0 1h0m0 0.5h0m0 2h0m0 0.5h0m0 0h0m0 2h0m0 2h0m0 0.5h0m0 2h0m0 1h0m0 0.5h0m0 1.5h0m0 1h0m0 1.5h0m0 2h0m0 0h0m0 1h0m0 1.5h0m0 1h0m0 0.5h0m0 0.5h0m0 0.5h0m0 1.5h0m0 0.5h0m0 4h0m0 12h0m0.5 -81.5h0m0 5.5h0m0 10h0m0 1h0m0 2h0m0 0.5h0m0 0.5h0m0 0.5h0m0 0h0m0 0.5h0m0 1.5h0m0 0.5h0m0 1h0m0 1h0m0 0.5h0m0 0h0m0 1h0m0 2.5h0m0 0.5h0m0 1h0m0 0.5h0m0 0.5h0m0 1h0m0 0.5h0m0 0h0m0 0h0m0 2.5h0m0 4h0m0 2h0m0 0.5h0m0 0.5h0m0 0.5h0m0 1h0m0 0.5h0m0 1h0m0 0.5h0m0 0.5h0m0 0.5h0m0 0.5h0m0 0h0m0 0.5h0m0 0h0m0 1h0m0 0h0m0 0.5h0m0 0h0m0 1.5h0m0 1.5h0m0 0h0m0 0.5h0m0 6h0m0 1.5h0m0 0h0m0 0.5h0m0 1.5h0m0 2h0m0 3h0m0 3.5h0m0 17h0m0.5 -87h0m0 12h0m0 4h0m0 6h0m0 0h0m0 1.5h0m0 1.5h0m0 3h0m0 0h0m0 2.5h0m0 0.5h0m0 0h0m0 0.5h0m0 1.5h0m0 0.5h0m0 0.5h0m0 2h0m0 0h0m0 1h0m0 2h0m0 0h0m0 0h0m0 1h0m0 1.5h0m0 0.5h0m0 0.5h0m0 1h0m0 1h0m0 2.5h0m0 3h0m0 2.5h0m0 0.5h0m0 0h0m0 0.5h0m0 1h0m0 2.5h0m0 1.5h0m0 1h0m0 0.5h0m0 2h0m0 0.5h0m0 1.5h0m0 7h0m0 1h0m0.5 -78.5h0m0 16h0m0 5h0m0 6h0m0 3.5h0m0 3h0m0 3h0m0 0.5h0m0 0.5h0m0 0h0m0 0.5h0m0 1h0m0 0.5h0m0 5.5h0m0 3.5h0m0 0.5h0m0 0.5h0m0 0h0m0 0.5h0m0 1h0m0 0h0m0 0.5h0m0 0.5h0m0 1h0m0 1.5h0m0 0h0m0 0h0m0 1.5h0m0 0h0m0 0.5h0m0 0.5h0m0 0h0m0 1.5h0m0 0h0m0 1h0m0 0h0m0 0.5h0m0 0h0m0 0h0m0 0.5h0m0 0h0m0 2h0m0 2h0m0 1h0m0 0.5h0m0 1.5h0m0 0h0m0 1.5h0m0 10.5h0m0 3.5h0m0 6.5h0m0.5 -78.5h0m0 5h0m0 4.5h0m0 7.5h0m0 3h0m0 0.5h0m0 1h0m0 1h0m0 0.5h0m0 1.5h0m0 0.5h0m0 0.5h0m0 0.5h0m0 2h0m0 2h0m0 1h0m0 1h0m0 1h0m0 1h0m0 4h0m0 0.5h0m0 0.5h0m0 1h0m0 1h0m0 1.5h0m0 2h0m0 0.5h0m0 3h0m0 0h0m0 0h0m0 1h0m0 2.5h0m0 2h0m0 1h0m0 3.5h0m0 2h0m0 6.5h0m0 7.5h0m0 0h0m0.5 -96.5h0m0 27h0m0 9.5h0m0 4h0m0 2.5h0m0 1h0m0 1h0m0 1h0m0 1.5h0m0 1.5h0m0 3h0m0 0.5h0m0 0h0m0 5.5h0m0 0h0m0 1h0m0 2h0m0 0.5h0m0 0.5h0m0 1h0m0 0.5h0m0 0.5h0m0 0.5h0m0 3.5h0m0 0.5h0m0 5.5h0m0 4h0m0 4h0m0 6h0m0 4.5h0m0.5 -64h0m0 5h0m0 1h0m0 0h0m0 1.5h0m0 3.5h0m0 1.5h0m0 1h0m0 1h0m0 0.5h0m0 2h0m0 1.5h0m0 0.5h0m0 2h0m0 1h0m0 3h0m0 0.5h0m0 1h0m0 0h0m0 1.5h0m0 0.5h0m0 1h0m0 0h0m0 0h0m0 0.5h0m0 0.5h0m0 0.5h0m0 0h0m0 2h0m0 0.5h0m0 0.5h0m0 1h0m0 4h0m0 0.5h0m0 0h0m0 3h0m0 3h0m0 2h0m0 3h0m0 0h0m0 2.5h0m0 5.5h0m0 8h0m0 0.5h0m0 5.5h0m0.5 -82h0m0 0h0m0 10h0m0 6h0m0 5.5h0m0 3.5h0m0 0.5h0m0 0.5h0m0 0h0m0 1h0m0 1h0m0 0h0m0 2.5h0m0 0h0m0 1h0m0 4h0m0 0h0m0 1.5h0m0 1.5h0m0 0h0m0 0.5h0m0 1h0m0 0.5h0m0 0.5h0m0 0h0m0 1.5h0m0 1h0m0 0.5h0m0 0.5h0m0 0.5h0m0 2h0m0 4h0m0 2h0m0 0h0m0 1h0m0 0.5h0m0 4.5h0m0 0.5h0m0 3h0m0.5 -60.5h0m0 11.5h0m0 6.5h0m0 1.5h0m0 1h0m0 0.5h0m0 0.5h0m0 1h0m0 0h0m0 1h0m0 0.5h0m0 0h0m0 8.5h0m0 4h0m0 0.5h0m0 0.5h0m0 1h0m0 0.5h0m0 2h0m0 2.5h0m0 0.5h0m0 0h0m0 0.5h0m0 1h0m0 3h0m0 1h0m0 1h0m0 1.5h0m0 1h0m0 0.5h0m0 1.5h0m0 0.5h0m0 1h0m0 10.5h0m0 1h0m0 10.5h0m0.5 -73.5h0m0 7h0m0 6h0m0 2h0m0 1.5h0m0 3h0m0 0h0m0 1h0m0 1h0m0 1h0m0 4h0m0 0.5h0m0 1.5h0m0 3h0m0 0h0m0 4h0m0 0.5h0m0 2h0m0 1.5h0m0 0.5h0m0 1.5h0m0 0.5h0m0 0h0m0 3h0m0 0h0m0 3.5h0m0 0.5h0m0 6h0m0 8.5h0m0 4h0m0 5.5h0m0 3h0m0 4.5h0m0.5 -103h0m0 13h0m0 2.5h0m0 0.5h0m0 16.5h0m0 4.5h0m0 0.5h0m0 2.5h0m0 2h0m0 1h0m0 5.5h0m0 0h0m0 2.5h0m0 2h0m0 0.5h0m0 0.5h0m0 1h0m0 1h0m0 0.5h0m0 1h0m0 2h0m0 0.5h0m0 0.5h0m0 0.5h0m0 0h0m0 1.5h0m0 1.5h0m0 0.5h0m0 0.5h0m0 2.5h0m0 2h0m0 9.5h0m0 0.5h0m0 0h0m0 2.5h0m0 5.5h0m0 15.5h0m0.5 -74.5h0m0 0.5h0m0 8.5h0m0 3.5h0m0 5h0m0 0.5h0m0 0.5h0m0 0.5h0m0 0h0m0 2.5h0m0 1.5h0m0 0.5h0m0 0.5h0m0 3.5h0m0 0h0m0 0h0m0 0h0m0 1.5h0m0 2.5h0m0 0h0m0 2.5h0m0 1h0m0 2h0m0 1h0m0 4h0m0 12h0m0 13h0m0.5 -71.5h0m0 4h0m0 0.5h0m0 2h0m0 6h0m0 5h0m0 0h0m0 2h0m0 1h0m0 3h0m0 1h0m0 1.5h0m0 4h0m0 1.5h0m0 1.5h0m0 0h0m0 1h0m0 0.5h0m0 1.5h0m0 10h0m0 1h0m0 2h0m0 2h0m0 1h0m0 0h0m0 2h0m0 3h0m0 4.5h0m0 0.5h0m0 0h0m0 8h0m0 2h0m0.5 -74h0m0 1h0m0 10h0m0 0h0m0 0.5h0m0 2.5h0m0 1.5h0m0 0.5h0m0 1h0m0 1h0m0 2h0m0 0.5h0m0 0.5h0m0 0.5h0m0 1h0m0 0.5h0m0 0h0m0 2.5h0m0 8.5h0m0 2h0m0 1h0m0 0h0m0 1h0m0 4.5h0m0 0.5h0m0 1h0m0 0.5h0m0 1h0m0 3.5h0m0 4.5h0m0 0.5h0m0 3.5h0m0 0.5h0m0 3h0m0.5 -67.5h0m0 9h0m0 0.5h0m0 0.5h0m0 1h0m0 3h0m0 12h0m0 4.5h0m0 2.5h0m0 1h0m0 10h0m0 2h0m0 3h0m0 0h0m0 2h0m0 2h0m0 0.5h0m0 3h0m0 0h0m0 4h0m0 29.5h0m0 3.5h0m0.5 -85h0m0 0h0m0 6h0m0 1.5h0m0 5.5h0m0 1h0m0 0h0m0 1.5h0m0 3h0m0 2.5h0m0 0.5h0m0 5.5h0m0 4h0m0 4.5h0m0 2h0m0 0.5h0m0 0.5h0m0 0.5h0m0 0.5h0m0 4.5h0m0 7h0m0.5 -43.5h0m0 1h0m0 2.5h0m0 3.5h0m0 0h0m0 3h0m0 2.5h0m0 5h0m0 0h0m0 1.5h0m0 0h0m0 2h0m0 0.5h0m0 1.5h0m0 5h0m0 1h0m0 1h0m0 0.5h0m0 0h0m0 0.5h0m0 6h0m0 0h0m0 3.5h0m0 12h0m0 7h0m0.5 -123.5h0m0 54.5h0m0 6.5h0m0 2h0m0 1h0m0 1h0m0 11.5h0m0 0.5h0m0 4h0m0 4.5h0m0 2.5h0m0 1h0m0 1h0m0 2h0m0 5.5h0m0 5.5h0m0 1h0m0 2h0m0 0.5h0m0 1.5h0m0 1h0m0 3.5h0m0 0.5h0m0 4h0m0 1.5h0m0 3h0m0 14h0m0.5 -74h0m0 5.5h0m0 7.5h0m0 0.5h0m0 0h0m0 1.5h0m0 1h0m0 1h0m0 5.5h0m0 2h0m0 5h0m0 2h0m0 2.5h0m0 1h0m0 0h0m0 0.5h0m0 4.5h0m0 18.5h0m0 15.5h0m0 19h0m0.5 -114.5h0m0 19h0m0 6.5h0m0 7.5h0m0 7h0m0 3.5h0m0 0h0m0 12h0m0 2h0m0 2h0m0 3h0m0 0.5h0m0 1.5h0m0.5 -63h0m0 31h0m0 21h0m0 12.5h0m0 1h0m0.5 -64.5h0m0 13.5h0m0 10h0m0 3h0m0 6.5h0m0 5h0m0 2.5h0m0 1.5h0m0 1h0m0 5.5h0m0 2.5h0m0 1h0m0 4.5h0m0 0h0m0 1h0m0 0.5h0m0 5.5h0m0.5 -40h0m0 7h0m0 2h0m0 3h0m0 0.5h0m0 1h0m0 3h0m0 12h0m0 13h0m0 11.5h0m0.5 -48h0m0 3.5h0m0 8h0m0 6.5h0m0 0.5h0m0 2.5h0m0 4.5h0m0 8.5h0m0 0h0m0 2.5h0m0.5 -62.5h0m0 12h0m0 21h0m0 1h0m0 6h0m0 10.5h0m0 2h0m0 0h0m0 0.5h0m0 6.5h0m0 4.5h0m0 3h0m0.5 -72h0m0 26h0m0 0.5h0m0 1.5h0m0 11h0m0 8h0m0 1h0m0 0.5h0m0 3h0m0 0h0m0 0.5h0m0 4h0m0 1h0m0 1h0m0 3h0m0 2h0m0 1h0m0 2.5h0m0 11.5h0m0.5 -51.5h0m0 0h0m0 4h0m0 8h0m0 14h0m0 3h0m0 6h0m0.5 -64h0m0 17.5h0m0 16.5h0m0 1.5h0m0 7.5h0m0 1h0m0 3h0m0 0.5h0m0 5h0m0 3h0m0.5 -72.5h0m0 66.5h0m0 24h0m0 11h0m0.5 -82.5h0m0 16.5h0m0 0.5h0m0 7.5h0m0 0.5h0m0 7h0m0 10.5h0m0 1h0m0 3.5h0m0 3.5h0m0 1.5h0m0 4.5h0m0 4h0m0 1.5h0m0 0h0m0 5.5h0m0.5 -48.5h0m0 18.5h0m0 3h0m0 9h0m0 16h0m0.5 -70.5h0m0 24.5h0m0 4.5h0m0 2.5h0m0 1h0m0 10.5h0m0 10h0m0 7h0m0.5 -26h0m0 18.5h0m0 12.5h0m0 4.5h0m0 7h0m0.5 -53.5h0m0 26.5h0m0 0h0m0 55h0m0.5 -65h0m0 7h0m0 27.5h0m0 1h0m0 0.5h0m0.5 -28.5h0m0 1h0m0.5 -38h0m0 16.5h0m0 26h0m0 1h0m0 10h0m0.5 -59.5h0m0 40h0m0 1.5h0m0 29.5h0m0 4h0m0 3.5h0m0.5 -57.5h0m0 54h0m0 6h0m0.5 -82.5h0m0 63h0m0.5 -70.5h0m0 97h0m0.5 -103.5h0m0 57.5h0m0.5 58h0m0.5 -72.5h0m0 40.5h0m0 1.5h0m0 8.5h0m0 15.5h0m0.5 -78.5h0m0 50h0m0.5 -40h0m0 23h0m0.5 -28h0m0 0h0m0 35.5h0m0.5 -49h0m0 18h0m0 16h0m0 11h0m0 11.5h0m0.5 -64.5h0m0 29.5h0m0 24h0m1 0.5h0m0.5 18h0m0 2.5h0m0.5 -34.5h0m1 19h0m0.5 0h0m0 6h0m1 19.5h0m1.5 -46.5h0m0.5 6.5h0m0 21.5h0m0 25.5h0m0.5 -32.5h0m1 -58h0m0 23.5h0m0.5 20h0m1 -12.5h0m0.5 16.5h0m0.5 -13h0m0 38h0m0.5 -10.5h0m2 -63h0m0.5 49.5h0m0.5 -10.5h0m0.5 -26h0m0 45.5h0m2 -6.5h0m0.5 -4.5h0m0 32.5h0m0.5 -15.5h0m0.5 -28h0m5.5 -3.5h0m0.5 42.5h0m7.5 -53h0" stroke="#1a1a1a" stroke-opacity="0.8" stroke-width="1" stroke-linecap="square" fill="none"/>
<rect x="313.25" y="268.75" width="185.00" height="168.00" fill="none" stroke="#6a6a6a" stroke-width="1.5" />
<line x1="372.50" y1="268.75" x2="372.50" y2="436.75" stroke="#5a5a5a" stroke-width="1" stroke-dasharray="6.5,4.5"/>
<line x1="313.25" y1="383.25" x2="498.25" y2="383.25" stroke="#5a5a5a" stroke-width="1" stroke-dasharray="6.5,4.5"/>
<line x1="494.25" y1="380.50" x2="494.25" y2="386.00" stroke="#555" stroke-width="0.8" />
<line x1="370.50" y1="272.95" x2="374.50" y2="272.95" stroke="#888" stroke-width="0.7" />
<line x1="306.25" y1="436.75" x2="313.25" y2="436.75" stroke="#666" stroke-width="0.9" />
<line x1="309.65" y1="424.11" x2="313.25" y2="424.11" stroke="#666" stroke-width="0.9" />
<line x1="309.65" y1="416.71" x2="313.25" y2="416.71" stroke="#666" stroke-width="0.9" />
<line x1="309.65" y1="411.46" x2="313.25" y2="411.46" stroke="#666" stroke-width="0.9" />
<line x1="309.65" y1="407.39" x2="313.25" y2="407.39" stroke="#666" stroke-width="0.9" />
<line x1="309.65" y1="404.07" x2="313.25" y2="404.07" stroke="#666" stroke-width="0.9" />
<line x1="309.65" y1="401.26" x2="313.25" y2="401.26" stroke="#666" stroke-width="0.9" />
<line x1="309.65" y1="398.82" x2="313.25" y2="398.82" stroke="#666" stroke-width="0.9" />
<line x1="309.65" y1="396.67" x2="313.25" y2="396.67" stroke="#666" stroke-width="0.9" />
<line x1="306.25" y1="394.75" x2="313.25" y2="394.75" stroke="#666" stroke-width="0.9" />
<line x1="309.65" y1="382.11" x2="313.25" y2="382.11" stroke="#666" stroke-width="0.9" />
<line x1="309.65" y1="374.71" x2="313.25" y2="374.71" stroke="#666" stroke-width="0.9" />
<line x1="309.65" y1="369.46" x2="313.25" y2="369.46" stroke="#666" stroke-width="0.9" />
<line x1="309.65" y1="365.39" x2="313.25" y2="365.39" stroke="#666" stroke-width="0.9" />
<line x1="309.65" y1="362.07" x2="313.25" y2="362.07" stroke="#666" stroke-width="0.9" />
<line x1="309.65" y1="359.26" x2="313.25" y2="359.26" stroke="#666" stroke-width="0.9" />
<line x1="309.65" y1="356.82" x2="313.25" y2="356.82" stroke="#666" stroke-width="0.9" />
<line x1="309.65" y1="354.67" x2="313.25" y2="354.67" stroke="#666" stroke-width="0.9" />
<line x1="306.25" y1="352.75" x2="313.25" y2="352.75" stroke="#666" stroke-width="0.9" />
<line x1="309.65" y1="340.11" x2="313.25" y2="340.11" stroke="#666" stroke-width="0.9" />
<line x1="309.65" y1="332.71" x2="313.25" y2="332.71" stroke="#666" stroke-width="0.9" />
<line x1="309.65" y1="327.46" x2="313.25" y2="327.46" stroke="#666" stroke-width="0.9" />
<line x1="309.65" y1="323.39" x2="313.25" y2="323.39" stroke="#666" stroke-width="0.9" />
<line x1="309.65" y1="320.07" x2="313.25" y2="320.07" stroke="#666" stroke-width="0.9" />
<line x1="309.65" y1="317.26" x2="313.25" y2="317.26" stroke="#666" stroke-width="0.9" />
<line x1="309.65" y1="314.82" x2="313.25" y2="314.82" stroke="#666" stroke-width="0.9" />
<line x1="309.65" y1="312.67" x2="313.25" y2="312.67" stroke="#666" stroke-width="0.9" />
<line x1="306.25" y1="310.75" x2="313.25" y2="310.75" stroke="#666" stroke-width="0.9" />
<line x1="309.65" y1="298.11" x2="313.25" y2="298.11" stroke="#666" stroke-width="0.9" />
<line x1="309.65" y1="290.71" x2="313.25" y2="290.71" stroke="#666" stroke-width="0.9" />
<line x1="309.65" y1="285.46" x2="313.25" y2="285.46" stroke="#666" stroke-width="0.9" />
<line x1="309.65" y1="281.39" x2="313.25" y2="281.39" stroke="#666" stroke-width="0.9" />
<line x1="309.65" y1="278.07" x2="313.25" y2="278.07" stroke="#666" stroke-width="0.9" />
<line x1="309.65" y1="275.26" x2="313.25" y2="275.26" stroke="#666" stroke-width="0.9" />
<line x1="309.65" y1="272.82" x2="313.25" y2="272.82" stroke="#666" stroke-width="0.9" />
<line x1="309.65" y1="270.67" x2="313.25" y2="270.67" stroke="#666" stroke-width="0.9" />
<line x1="306.25" y1="268.75" x2="313.25" y2="268.75" stroke="#666" stroke-width="0.9" />
<text x="298.25" y="396.35" font-family="'Liberation Sans',sans-serif" font-weight="bold" font-size="4.6" text-anchor="start" fill="#222" >10</text>
<text x="302.65" y="394.15" font-family="'Liberation Sans',sans-serif" font-weight="normal" font-size="3" text-anchor="start" fill="#333" >0</text>
<text x="298.25" y="354.35" font-family="'Liberation Sans',sans-serif" font-weight="bold" font-size="4.6" text-anchor="start" fill="#222" >10</text>
<text x="302.65" y="352.15" font-family="'Liberation Sans',sans-serif" font-weight="normal" font-size="3" text-anchor="start" fill="#333" >1</text>
<text x="298.25" y="312.35" font-family="'Liberation Sans',sans-serif" font-weight="bold" font-size="4.6" text-anchor="start" fill="#222" >10</text>
<text x="302.65" y="310.15" font-family="'Liberation Sans',sans-serif" font-weight="normal" font-size="3" text-anchor="start" fill="#333" >2</text>
<text x="298.25" y="270.35" font-family="'Liberation Sans',sans-serif" font-weight="bold" font-size="4.6" text-anchor="start" fill="#222" >10</text>
<text x="302.65" y="268.15" font-family="'Liberation Sans',sans-serif" font-weight="normal" font-size="3" text-anchor="start" fill="#333" >3</text>
<line x1="313.25" y1="436.75" x2="313.25" y2="443.75" stroke="#666" stroke-width="0.9" />
<line x1="327.17" y1="436.75" x2="327.17" y2="440.35" stroke="#666" stroke-width="0.9" />
<line x1="335.32" y1="436.75" x2="335.32" y2="440.35" stroke="#666" stroke-width="0.9" />
<line x1="341.10" y1="436.75" x2="341.10" y2="440.35" stroke="#666" stroke-width="0.9" />
<line x1="345.58" y1="436.75" x2="345.58" y2="440.35" stroke="#666" stroke-width="0.9" />
<line x1="349.24" y1="436.75" x2="349.24" y2="440.35" stroke="#666" stroke-width="0.9" />
<line x1="352.34" y1="436.75" x2="352.34" y2="440.35" stroke="#666" stroke-width="0.9" />
<line x1="355.02" y1="436.75" x2="355.02" y2="440.35" stroke="#666" stroke-width="0.9" />
<line x1="357.38" y1="436.75" x2="357.38" y2="440.35" stroke="#666" stroke-width="0.9" />
<line x1="359.50" y1="436.75" x2="359.50" y2="443.75" stroke="#666" stroke-width="0.9" />
<line x1="373.42" y1="436.75" x2="373.42" y2="440.35" stroke="#666" stroke-width="0.9" />
<line x1="381.57" y1="436.75" x2="381.57" y2="440.35" stroke="#666" stroke-width="0.9" />
<line x1="387.35" y1="436.75" x2="387.35" y2="440.35" stroke="#666" stroke-width="0.9" />
<line x1="391.83" y1="436.75" x2="391.83" y2="440.35" stroke="#666" stroke-width="0.9" />
<line x1="395.49" y1="436.75" x2="395.49" y2="440.35" stroke="#666" stroke-width="0.9" />
<line x1="398.59" y1="436.75" x2="398.59" y2="440.35" stroke="#666" stroke-width="0.9" />
<line x1="401.27" y1="436.75" x2="401.27" y2="440.35" stroke="#666" stroke-width="0.9" />
<line x1="403.63" y1="436.75" x2="403.63" y2="440.35" stroke="#666" stroke-width="0.9" />
<text x="355.00" y="449.95" font-family="'Liberation Sans',sans-serif" font-weight="bold" font-size="4.6" text-anchor="start" fill="#222" >10</text>
<line x1="405.75" y1="436.75" x2="405.75" y2="443.75" stroke="#666" stroke-width="0.9" />
<line x1="419.67" y1="436.75" x2="419.67" y2="440.35" stroke="#666" stroke-width="0.9" />
<line x1="427.82" y1="436.75" x2="427.82" y2="440.35" stroke="#666" stroke-width="0.9" />
<line x1="433.60" y1="436.75" x2="433.60" y2="440.35" stroke="#666" stroke-width="0.9" />
<line x1="438.08" y1="436.75" x2="438.08" y2="440.35" stroke="#666" stroke-width="0.9" />
<line x1="441.74" y1="436.75" x2="441.74" y2="440.35" stroke="#666" stroke-width="0.9" />
<line x1="444.84" y1="436.75" x2="444.84" y2="440.35" stroke="#666" stroke-width="0.9" />
<line x1="447.52" y1="436.75" x2="447.52" y2="440.35" stroke="#666" stroke-width="0.9" />
<line x1="449.88" y1="436.75" x2="449.88" y2="440.35" stroke="#666" stroke-width="0.9" />
<text x="401.25" y="449.95" font-family="'Liberation Sans',sans-serif" font-weight="bold" font-size="4.6" text-anchor="start" fill="#222" >10</text>
<line x1="452.00" y1="436.75" x2="452.00" y2="443.75" stroke="#666" stroke-width="0.9" />
<line x1="465.92" y1="436.75" x2="465.92" y2="440.35" stroke="#666" stroke-width="0.9" />
<line x1="474.07" y1="436.75" x2="474.07" y2="440.35" stroke="#666" stroke-width="0.9" />
<line x1="479.85" y1="436.75" x2="479.85" y2="440.35" stroke="#666" stroke-width="0.9" />
<line x1="484.33" y1="436.75" x2="484.33" y2="440.35" stroke="#666" stroke-width="0.9" />
<line x1="487.99" y1="436.75" x2="487.99" y2="440.35" stroke="#666" stroke-width="0.9" />
<line x1="491.09" y1="436.75" x2="491.09" y2="440.35" stroke="#666" stroke-width="0.9" />
<line x1="493.77" y1="436.75" x2="493.77" y2="440.35" stroke="#666" stroke-width="0.9" />
<line x1="496.13" y1="436.75" x2="496.13" y2="440.35" stroke="#666" stroke-width="0.9" />
<text x="447.50" y="449.95" font-family="'Liberation Sans',sans-serif" font-weight="bold" font-size="4.6" text-anchor="start" fill="#222" >10</text>
<line x1="498.25" y1="436.75" x2="498.25" y2="443.75" stroke="#666" stroke-width="0.9" />
<text x="493.75" y="449.95" font-family="'Liberation Sans',sans-serif" font-weight="bold" font-size="4.6" text-anchor="start" fill="#222" >10</text>
<text x="270.5" y="266.8" font-family="'Liberation Sans',sans-serif" font-weight="bold" font-size="27">D</text>
<text x="341.25" y="264.25" font-family="'Liberation Serif',serif" font-weight="bold" font-size="16.7" text-anchor="start" fill="#000" stroke="#000" stroke-width="0.25" textLength="123.8" lengthAdjust="spacingAndGlyphs" >Gated R1 and R3</text>
<text x="316.25" y="288.00" font-family="'Liberation Serif',serif" font-weight="bold" font-size="14.35" text-anchor="start" fill="#000" stroke="#000" stroke-width="0.25" textLength="58.2" lengthAdjust="spacingAndGlyphs" >5.1±3.0%</text>
<text x="429.50" y="288.00" font-family="'Liberation Serif',serif" font-weight="bold" font-size="14.35" text-anchor="start" fill="#000" stroke="#000" stroke-width="0.25" textLength="65.0" lengthAdjust="spacingAndGlyphs" >85.0±3.7%</text>
<text x="317.50" y="432.00" font-family="'Liberation Serif',serif" font-weight="bold" font-size="14.35" text-anchor="start" fill="#000" stroke="#000" stroke-width="0.25" textLength="58.0" lengthAdjust="spacingAndGlyphs" >2.2±0.4%</text>
<text x="423.75" y="432.00" font-family="'Liberation Serif',serif" font-weight="bold" font-size="14.35" text-anchor="start" fill="#000" stroke="#000" stroke-width="0.25" textLength="71.2" lengthAdjust="spacingAndGlyphs" >**9.3±1.1%</text>
<text x="382.50" y="468.50" font-family="'Liberation Serif',serif" font-weight="bold" font-size="16.5" text-anchor="start" fill="#000" stroke="#000" stroke-width="0.25" textLength="39.5" lengthAdjust="spacingAndGlyphs" >CD34</text>
<text transform="translate(285.00,351.40) rotate(-90)" x="0" y="0" font-family="'Liberation Serif',serif" font-weight="bold" font-size="17.4" text-anchor="middle" stroke="#000" stroke-width="0.25" textLength="40.4" lengthAdjust="spacingAndGlyphs">CD38</text>
<text x="1.5" y="504.6" font-family="'Liberation Sans',sans-serif" font-weight="bold" font-size="27">E</text>
<rect x="96.20" y="688.90" width="24.50" height="73.50" fill="#000" stroke="#000" stroke-width="1" />
<rect x="120.70" y="737.30" width="24.50" height="25.10" fill="#dcdcdc" stroke="#000" stroke-width="1" />
<rect x="145.20" y="692.90" width="24.50" height="69.50" fill="#fff" stroke="#000" stroke-width="1" />
<line x1="108.45" y1="678.20" x2="108.45" y2="699.60" stroke="#000" stroke-width="1.2" />
<line x1="104.95" y1="678.20" x2="111.95" y2="678.20" stroke="#000" stroke-width="1.6" />
<line x1="104.95" y1="699.60" x2="111.95" y2="699.60" stroke="#000" stroke-width="1.6" />
<line x1="132.95" y1="732.50" x2="132.95" y2="742.50" stroke="#000" stroke-width="1.2" />
<line x1="129.45" y1="732.50" x2="136.45" y2="732.50" stroke="#000" stroke-width="1.6" />
<line x1="129.45" y1="742.50" x2="136.45" y2="742.50" stroke="#000" stroke-width="1.6" />
<line x1="157.45" y1="683.20" x2="157.45" y2="703.30" stroke="#000" stroke-width="1.2" />
<line x1="153.95" y1="683.20" x2="160.95" y2="683.20" stroke="#000" stroke-width="1.6" />
<line x1="153.95" y1="703.30" x2="160.95" y2="703.30" stroke="#000" stroke-width="1.6" />
<rect x="206.10" y="758.20" width="24.50" height="4.20" fill="#000" stroke="#000" stroke-width="1" />
<rect x="230.60" y="760.40" width="24.50" height="2.00" fill="#dcdcdc" stroke="#000" stroke-width="1" />
<rect x="255.10" y="754.70" width="24.50" height="7.70" fill="#fff" stroke="#000" stroke-width="1" />
<line x1="218.35" y1="756.80" x2="218.35" y2="759.60" stroke="#000" stroke-width="1.2" />
<line x1="214.85" y1="756.80" x2="221.85" y2="756.80" stroke="#000" stroke-width="1.6" />
<line x1="214.85" y1="759.60" x2="221.85" y2="759.60" stroke="#000" stroke-width="1.6" />
<line x1="242.85" y1="759.30" x2="242.85" y2="761.30" stroke="#000" stroke-width="1.2" />
<line x1="239.35" y1="759.30" x2="246.35" y2="759.30" stroke="#000" stroke-width="1.6" />
<line x1="239.35" y1="761.30" x2="246.35" y2="761.30" stroke="#000" stroke-width="1.6" />
<line x1="267.35" y1="753.20" x2="267.35" y2="756.20" stroke="#000" stroke-width="1.2" />
<line x1="263.85" y1="753.20" x2="270.85" y2="753.20" stroke="#000" stroke-width="1.6" />
<line x1="263.85" y1="756.20" x2="270.85" y2="756.20" stroke="#000" stroke-width="1.6" />
<rect x="316.00" y="629.40" width="24.50" height="133.00" fill="#000" stroke="#000" stroke-width="1" />
<rect x="340.50" y="679.00" width="24.50" height="83.40" fill="#dcdcdc" stroke="#000" stroke-width="1" />
<rect x="365.00" y="682.00" width="24.50" height="80.40" fill="#fff" stroke="#000" stroke-width="1" />
<line x1="328.25" y1="603.50" x2="328.25" y2="655.30" stroke="#000" stroke-width="1.2" />
<line x1="324.75" y1="603.50" x2="331.75" y2="603.50" stroke="#000" stroke-width="1.6" />
<line x1="324.75" y1="655.30" x2="331.75" y2="655.30" stroke="#000" stroke-width="1.6" />
<line x1="352.75" y1="661.20" x2="352.75" y2="696.00" stroke="#000" stroke-width="1.2" />
<line x1="349.25" y1="661.20" x2="356.25" y2="661.20" stroke="#000" stroke-width="1.6" />
<line x1="349.25" y1="696.00" x2="356.25" y2="696.00" stroke="#000" stroke-width="1.6" />
<line x1="377.25" y1="668.80" x2="377.25" y2="695.00" stroke="#000" stroke-width="1.2" />
<line x1="373.75" y1="668.80" x2="380.75" y2="668.80" stroke="#000" stroke-width="1.6" />
<line x1="373.75" y1="695.00" x2="380.75" y2="695.00" stroke="#000" stroke-width="1.6" />
<rect x="425.90" y="553.20" width="24.50" height="209.20" fill="#000" stroke="#000" stroke-width="1" />
<rect x="450.40" y="653.40" width="24.50" height="109.00" fill="#dcdcdc" stroke="#000" stroke-width="1" />
<rect x="474.90" y="606.60" width="24.50" height="155.80" fill="#fff" stroke="#000" stroke-width="1" />
<line x1="438.15" y1="529.20" x2="438.15" y2="577.20" stroke="#000" stroke-width="1.2" />
<line x1="434.65" y1="529.20" x2="441.65" y2="529.20" stroke="#000" stroke-width="1.6" />
<line x1="434.65" y1="577.20" x2="441.65" y2="577.20" stroke="#000" stroke-width="1.6" />
<line x1="462.65" y1="630.80" x2="462.65" y2="673.10" stroke="#000" stroke-width="1.2" />
<line x1="459.15" y1="630.80" x2="466.15" y2="630.80" stroke="#000" stroke-width="1.6" />
<line x1="459.15" y1="673.10" x2="466.15" y2="673.10" stroke="#000" stroke-width="1.6" />
<line x1="487.15" y1="586.20" x2="487.15" y2="623.90" stroke="#000" stroke-width="1.2" />
<line x1="483.65" y1="586.20" x2="490.65" y2="586.20" stroke="#000" stroke-width="1.6" />
<line x1="483.65" y1="623.90" x2="490.65" y2="623.90" stroke="#000" stroke-width="1.6" />
<line x1="78.00" y1="497.30" x2="78.00" y2="762.40" stroke="#000" stroke-width="1.3" />
<line x1="78.00" y1="762.40" x2="517.60" y2="762.40" stroke="#000" stroke-width="1.3" />
<line x1="74.50" y1="762.40" x2="78.00" y2="762.40" stroke="#000" stroke-width="1.3" />
<text x="62.00" y="771.40" font-family="'Liberation Serif',serif" font-weight="bold" font-size="16.3" text-anchor="end" fill="#000" stroke="#000" stroke-width="0.25" >0</text>
<line x1="74.50" y1="696.12" x2="78.00" y2="696.12" stroke="#000" stroke-width="1.3" />
<text x="66.30" y="705.12" font-family="'Liberation Serif',serif" font-weight="bold" font-size="16.3" text-anchor="end" fill="#000" stroke="#000" stroke-width="0.25" >100</text>
<line x1="74.50" y1="629.85" x2="78.00" y2="629.85" stroke="#000" stroke-width="1.3" />
<text x="66.30" y="638.85" font-family="'Liberation Serif',serif" font-weight="bold" font-size="16.3" text-anchor="end" fill="#000" stroke="#000" stroke-width="0.25" >200</text>
<line x1="74.50" y1="563.58" x2="78.00" y2="563.58" stroke="#000" stroke-width="1.3" />
<text x="66.30" y="572.58" font-family="'Liberation Serif',serif" font-weight="bold" font-size="16.3" text-anchor="end" fill="#000" stroke="#000" stroke-width="0.25" >300</text>
<line x1="74.50" y1="497.30" x2="78.00" y2="497.30" stroke="#000" stroke-width="1.3" />
<text x="66.30" y="506.30" font-family="'Liberation Serif',serif" font-weight="bold" font-size="16.3" text-anchor="end" fill="#000" stroke="#000" stroke-width="0.25" >400</text>
<line x1="78.00" y1="762.40" x2="78.00" y2="766.90" stroke="#000" stroke-width="1.2" />
<line x1="187.90" y1="762.40" x2="187.90" y2="766.90" stroke="#000" stroke-width="1.2" />
<line x1="297.80" y1="762.40" x2="297.80" y2="766.90" stroke="#000" stroke-width="1.2" />
<line x1="407.70" y1="762.40" x2="407.70" y2="766.90" stroke="#000" stroke-width="1.2" />
<line x1="517.60" y1="762.40" x2="517.60" y2="766.90" stroke="#000" stroke-width="1.2" />
<text x="109.60" y="784.20" font-family="'Liberation Serif',serif" font-weight="bold" font-size="16" text-anchor="start" fill="#000" stroke="#000" stroke-width="0.25" textLength="48.1" lengthAdjust="spacingAndGlyphs" >BFU-E</text>
<text x="209.20" y="784.20" font-family="'Liberation Serif',serif" font-weight="bold" font-size="16.4" text-anchor="start" fill="#000" stroke="#000" stroke-width="0.25" textLength="67.7" lengthAdjust="spacingAndGlyphs" >CFU-Mix</text>
<text x="319.00" y="784.20" font-family="'Liberation Serif',serif" font-weight="bold" font-size="16.5" text-anchor="start" fill="#000" stroke="#000" stroke-width="0.25" textLength="67.9" lengthAdjust="spacingAndGlyphs" >CFU-GM</text>
<text x="443.20" y="784.20" font-family="'Liberation Serif',serif" font-weight="bold" font-size="16.6" text-anchor="start" fill="#000" stroke="#000" stroke-width="0.25" textLength="36.8" lengthAdjust="spacingAndGlyphs" >Total</text>
<text x="97.50" y="680.50" font-family="'Liberation Serif',serif" font-weight="normal" font-size="22" text-anchor="start" fill="#000" >**</text>
<text x="433.00" y="532.50" font-family="'Liberation Serif',serif" font-weight="normal" font-size="22" text-anchor="start" fill="#000" >*</text>
<text transform="translate(14.80,628.70) rotate(-90)" x="0" y="0" font-family="'Liberation Serif',serif" font-weight="bold" font-size="16.5" text-anchor="middle" stroke="#000" stroke-width="0.25" textLength="193.8" lengthAdjust="spacingAndGlyphs">Number of CFU/1000 Cells</text>
<rect x="97.30" y="499.60" width="196.50" height="57.60" fill="#fff" stroke="#333" stroke-width="1.2" />
<rect x="107.70" y="507.10" width="13.00" height="10.00" fill="#000" stroke="#333" stroke-width="1" />
<text x="130.40" y="517.90" font-family="'Liberation Serif',serif" font-weight="bold" font-size="13.3" text-anchor="start" fill="#000" stroke="#000" stroke-width="0.25" textLength="149.4" lengthAdjust="spacingAndGlyphs" >ALDH<tspan font-size="8" dy="-5">hi</tspan><tspan dy="5">CD133</tspan><tspan font-size="8" dy="-5">-</tspan><tspan dy="5">Lin</tspan><tspan font-size="8" dy="-5">-</tspan><tspan dy="5"> cells</tspan></text>
<rect x="107.70" y="523.80" width="13.00" height="10.00" fill="#d9d9d9" stroke="#333" stroke-width="1" />
<text x="130.40" y="534.60" font-family="'Liberation Serif',serif" font-weight="bold" font-size="13.3" text-anchor="start" fill="#000" stroke="#000" stroke-width="0.25" textLength="151.9" lengthAdjust="spacingAndGlyphs" >ALDH<tspan font-size="8" dy="-5">hi</tspan><tspan dy="5">CD133</tspan><tspan font-size="8" dy="-5">+</tspan><tspan dy="5">Lin</tspan><tspan font-size="8" dy="-5">-</tspan><tspan dy="5"> cells</tspan></text>
<rect x="107.70" y="541.20" width="13.00" height="10.00" fill="#fff" stroke="#333" stroke-width="1" />
<text x="130.40" y="552.00" font-family="'Liberation Serif',serif" font-weight="bold" font-size="13.3" text-anchor="start" fill="#000" stroke="#000" stroke-width="0.25" textLength="103.8" lengthAdjust="spacingAndGlyphs" >ALDH<tspan font-size="8" dy="-5">hi</tspan><tspan dy="5">Lin</tspan><tspan font-size="8" dy="-5">-</tspan><tspan dy="5"> cells</tspan></text>
</svg>
</body></html>
